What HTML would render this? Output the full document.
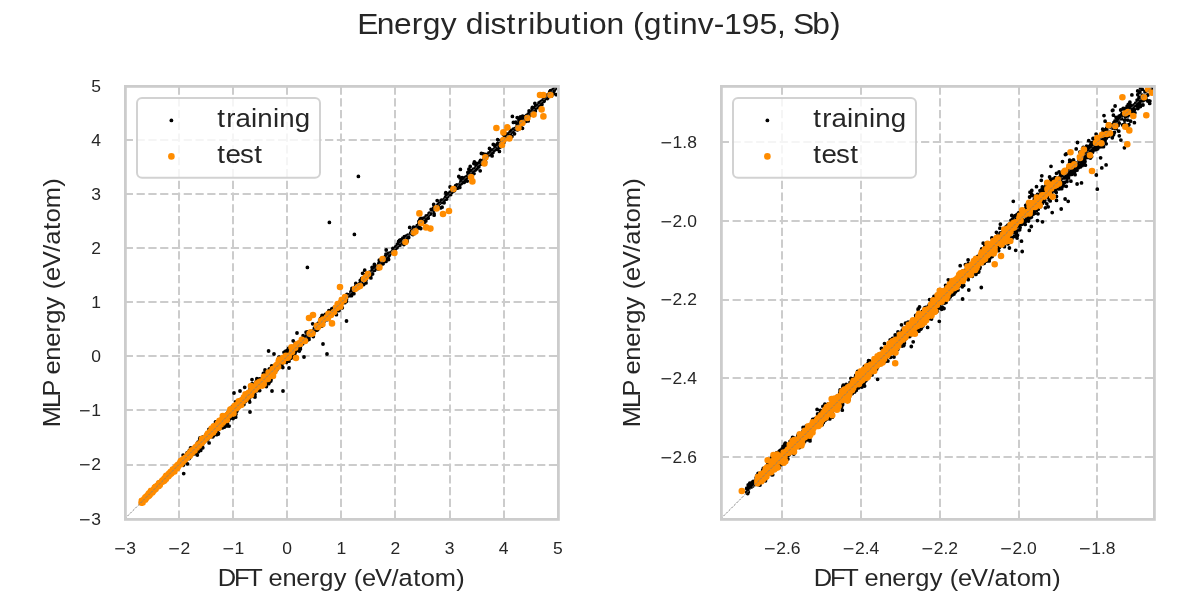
<!DOCTYPE html>
<html><head><meta charset="utf-8"><title>Energy distribution (gtinv-195, Sb)</title>
<style>html,body{margin:0;padding:0;background:#fff;width:1200px;height:600px;overflow:hidden}svg{font-family:"Liberation Sans",sans-serif;will-change:transform;transform:translateZ(0)}</style>
</head><body>
<svg font-family="Liberation Sans, sans-serif" fill="#262626" width="1200" height="600" viewBox="0 0 1200 600" style="display:block">
<rect width="1200" height="600" fill="#ffffff"/>
<defs>
<clipPath id="c0"><rect x="124.8" y="85.75" width="432.99999999999994" height="433.0"/></clipPath>
<clipPath id="c1"><rect x="720.8" y="85.75" width="433.0" height="433.0"/></clipPath>
</defs>
<g clip-path="url(#c0)">
<g stroke="#cccccc" stroke-width="2" stroke-dasharray="8.22 3.56" fill="none">
<path d="M179.00 518.75V85.75"/>
<path d="M233.00 518.75V85.75"/>
<path d="M287.00 518.75V85.75"/>
<path d="M341.00 518.75V85.75"/>
<path d="M395.00 518.75V85.75"/>
<path d="M450.00 518.75V85.75"/>
<path d="M504.00 518.75V85.75"/>
<path d="M124.8 140.00H557.8"/>
<path d="M124.8 194.00H557.8"/>
<path d="M124.8 248.00H557.8"/>
<path d="M124.8 302.00H557.8"/>
<path d="M124.8 356.00H557.8"/>
<path d="M124.8 410.00H557.8"/>
<path d="M124.8 465.00H557.8"/>
</g>
<path d="M156.0 487.4h0M161.1 480.7h0M188.4 457.3h0M181.5 461.4h0M165.3 477.7h0M162.0 480.6h0M177.1 467.3h0M153.6 490.4h0M181.3 462.2h0M196.7 447.9h0M157.2 487.6h0M197.1 447.3h0M181.0 462.6h0M148.5 494.7h0M168.2 475.4h0M193.5 449.9h0M182.8 461.5h0M161.6 482.7h0M184.8 457.6h0M155.5 488.1h0M147.7 496.0h0M152.1 490.5h0M162.4 479.9h0M169.5 472.8h0M158.2 485.0h0M189.5 454.1h0M154.0 489.2h0M150.4 493.0h0M148.2 493.9h0M177.1 466.1h0M191.7 451.2h0M177.3 466.3h0M196.1 446.1h0M184.3 461.3h0M192.1 451.1h0M196.0 446.8h0M174.1 470.6h0M196.4 445.0h0M171.2 472.5h0M158.6 485.1h0M168.8 475.9h0M180.9 461.8h0M161.9 481.5h0M194.5 449.6h0M157.7 485.7h0M162.4 480.5h0M157.8 484.6h0M163.3 480.1h0M143.3 501.2h0M178.8 465.3h0M159.1 486.8h0M146.9 497.4h0M178.2 464.7h0M153.1 490.0h0M160.4 483.3h0M168.1 475.8h0M151.6 490.4h0M155.4 487.8h0M170.0 472.6h0M170.2 473.0h0M157.5 486.7h0M160.0 482.0h0M158.9 485.9h0M157.9 486.9h0M170.5 473.5h0M155.1 489.2h0M171.3 472.9h0M157.0 487.1h0M190.8 451.8h0M153.3 490.2h0M192.1 451.1h0M153.2 492.0h0M185.8 458.6h0M177.8 464.6h0M154.9 489.8h0M186.3 456.1h0M157.2 487.4h0M147.9 495.4h0M178.2 466.2h0M173.6 469.7h0M179.2 465.3h0M152.9 490.9h0M157.1 484.7h0M182.0 461.9h0M147.6 493.9h0M192.9 451.1h0M167.4 477.3h0M178.2 465.2h0M160.8 483.1h0M153.2 488.6h0M143.6 499.1h0M155.0 487.4h0M192.6 450.3h0M198.5 442.6h0M168.2 474.6h0M164.6 478.4h0M158.7 485.7h0M198.1 446.4h0M146.3 497.0h0M166.3 476.3h0M152.6 489.8h0M156.7 487.8h0M187.5 455.6h0M154.6 488.7h0M174.5 470.2h0M163.9 479.1h0M171.9 473.9h0M162.0 481.3h0M159.1 482.0h0M159.1 485.5h0M147.9 495.7h0M170.5 475.0h0M193.4 451.0h0M197.0 445.8h0M144.6 500.0h0M195.3 448.3h0M149.9 494.0h0M185.6 458.3h0M194.1 449.3h0M152.6 490.5h0M161.9 480.4h0M164.6 478.2h0M162.8 481.3h0M172.4 469.7h0M143.5 498.8h0M167.1 478.0h0M193.0 449.9h0M148.0 494.7h0M170.6 472.0h0M170.4 472.6h0M187.6 457.2h0M198.0 445.8h0M183.3 462.3h0M158.6 485.1h0M181.2 460.3h0M162.8 480.1h0M186.8 455.9h0M181.5 462.5h0M198.7 445.8h0M192.4 452.2h0M145.6 497.8h0M159.5 484.8h0M192.2 452.0h0M177.2 465.2h0M162.6 482.6h0M146.2 498.7h0M186.5 457.6h0M143.1 500.6h0M148.3 495.4h0M199.6 445.3h0M288.0 357.0h0M228.0 416.1h0M232.7 407.8h0M266.7 384.3h0M257.9 387.2h0M287.6 357.0h0M263.4 373.4h0M243.3 402.5h0M288.4 353.9h0M221.7 421.3h0M226.0 422.8h0M224.1 418.6h0M240.3 401.0h0M187.1 452.8h0M236.0 408.9h0M220.0 427.8h0M211.5 429.1h0M211.9 434.2h0M276.3 369.0h0M228.1 416.8h0M297.7 346.8h0M231.3 415.6h0M264.6 382.3h0M218.7 429.6h0M279.7 357.4h0M207.9 435.5h0M215.2 430.2h0M217.2 425.7h0M198.1 442.1h0M270.8 381.0h0M233.5 414.6h0M197.7 447.2h0M245.7 396.5h0M240.1 404.0h0M242.1 398.8h0M266.4 380.4h0M190.8 450.7h0M240.6 400.9h0M189.0 456.0h0M297.2 344.9h0M260.2 380.2h0M202.8 447.8h0M290.6 356.4h0M203.5 442.6h0M224.5 422.6h0M188.6 456.8h0M226.4 425.9h0M268.6 377.7h0M197.3 455.1h0M273.9 367.5h0M233.0 413.1h0M276.9 369.8h0M203.3 439.6h0M288.6 356.7h0M268.1 376.0h0M188.6 455.9h0M239.1 407.0h0M190.7 449.2h0M267.5 375.4h0M225.5 416.5h0M273.6 367.3h0M286.3 362.4h0M203.6 441.4h0M277.8 360.0h0M228.1 419.5h0M227.7 415.6h0M259.6 380.0h0M297.0 345.4h0M262.9 376.8h0M208.9 429.3h0M183.1 455.1h0M196.0 450.7h0M217.5 429.5h0M191.1 451.5h0M190.8 452.1h0M293.7 357.8h0M200.7 450.4h0M222.1 419.4h0M296.0 346.1h0M245.4 396.8h0M264.0 377.3h0M216.6 434.7h0M260.9 379.1h0M202.1 445.4h0M223.5 422.6h0M289.1 352.5h0M268.4 373.2h0M237.1 403.0h0M236.6 409.8h0M269.8 372.7h0M229.5 418.6h0M233.6 408.4h0M249.4 401.2h0M248.5 400.3h0M236.9 411.0h0M253.7 392.7h0M200.5 443.0h0M269.5 372.9h0M202.0 440.6h0M277.6 366.3h0M250.0 393.2h0M292.5 354.0h0M231.8 412.7h0M260.0 384.3h0M191.6 452.5h0M218.5 420.8h0M202.0 440.7h0M261.2 383.6h0M197.2 447.9h0M241.3 403.7h0M212.6 435.7h0M202.6 444.2h0M278.2 363.0h0M211.5 432.8h0M192.3 448.7h0M228.9 412.0h0M207.7 439.4h0M266.5 372.4h0M255.4 390.3h0M294.0 351.7h0M282.6 357.4h0M218.8 428.1h0M283.7 361.4h0M212.6 432.9h0M282.9 359.6h0M200.0 441.6h0M291.6 353.7h0M249.0 397.3h0M236.5 411.5h0M230.1 413.2h0M227.2 417.3h0M201.4 444.3h0M256.9 378.7h0M224.6 421.5h0M286.0 355.2h0M197.5 449.0h0M237.8 406.2h0M251.5 385.5h0M268.3 376.4h0M259.7 390.6h0M232.9 412.4h0M268.6 379.8h0M266.1 376.4h0M227.6 412.6h0M233.1 418.6h0M224.5 427.1h0M274.0 367.1h0M199.7 439.0h0M278.4 363.7h0M251.8 395.7h0M226.4 416.5h0M293.3 346.5h0M295.1 351.7h0M296.3 343.9h0M194.8 447.0h0M240.4 399.8h0M290.7 351.6h0M184.0 460.7h0M218.1 429.6h0M236.8 405.1h0M215.5 426.2h0M249.9 389.6h0M245.7 395.8h0M281.8 365.0h0M211.0 430.8h0M271.5 371.7h0M240.7 401.5h0M295.9 345.5h0M283.4 361.3h0M185.4 461.2h0M229.7 415.0h0M212.8 436.8h0M240.1 404.3h0M299.6 348.2h0M250.8 393.2h0M191.1 451.1h0M270.4 377.0h0M206.5 435.4h0M237.1 407.1h0M257.4 389.4h0M289.8 350.2h0M222.9 426.3h0M260.8 385.8h0M187.1 455.7h0M190.3 454.4h0M232.8 414.6h0M252.0 390.2h0M216.2 429.6h0M269.9 370.9h0M220.5 426.8h0M214.6 429.6h0M264.4 379.4h0M265.9 375.9h0M297.2 348.9h0M198.5 451.7h0M194.3 451.4h0M280.3 363.2h0M215.3 424.8h0M289.0 361.2h0M249.9 392.0h0M253.4 393.5h0M183.6 460.5h0M249.3 396.6h0M284.8 352.0h0M299.3 348.2h0M227.5 415.6h0M202.7 437.1h0M288.7 360.3h0M231.5 412.6h0M235.9 405.5h0M237.9 406.3h0M247.0 394.0h0M190.1 453.5h0M184.8 457.0h0M272.7 370.6h0M257.0 387.9h0M229.1 426.1h0M259.6 382.1h0M266.4 386.6h0M217.1 432.4h0M228.9 420.3h0M211.9 436.7h0M199.2 445.6h0M252.2 383.7h0M269.3 369.2h0M254.1 395.0h0M212.9 430.7h0M258.0 389.7h0M231.1 415.4h0M235.2 407.1h0M184.5 460.7h0M274.1 366.3h0M288.0 355.7h0M217.1 428.2h0M225.3 422.0h0M240.5 403.8h0M229.5 409.5h0M226.2 418.4h0M270.3 377.9h0M259.5 379.0h0M220.5 426.5h0M257.2 382.8h0M263.0 383.7h0M234.5 408.9h0M213.5 435.6h0M284.0 352.3h0M183.7 473.6h0M267.2 380.1h0M277.6 366.2h0M207.7 437.2h0M249.7 402.1h0M297.9 348.4h0M218.3 434.0h0M255.0 394.7h0M231.4 407.5h0M234.6 412.2h0M271.1 374.6h0M246.8 399.3h0M215.5 422.0h0M269.7 371.9h0M248.4 391.4h0M219.0 422.0h0M252.9 390.6h0M269.8 375.6h0M190.5 456.8h0M202.4 446.7h0M224.3 420.5h0M212.2 428.9h0M249.3 396.8h0M188.7 453.4h0M290.4 355.4h0M269.0 378.7h0M232.1 406.8h0M200.8 445.7h0M190.3 456.1h0M269.5 368.8h0M249.3 396.1h0M231.6 412.0h0M219.7 423.7h0M189.3 454.8h0M271.7 371.2h0M207.7 433.2h0M214.3 430.8h0M210.2 434.7h0M249.3 393.2h0M217.0 425.7h0M195.7 453.0h0M285.1 358.8h0M203.3 440.4h0M208.3 436.7h0M269.6 378.1h0M236.7 410.3h0M292.4 350.4h0M287.7 356.9h0M248.6 394.4h0M202.2 441.4h0M219.0 425.3h0M260.7 379.7h0M217.8 433.2h0M243.0 397.1h0M197.3 443.7h0M248.7 396.0h0M293.2 340.8h0M255.8 382.5h0M216.6 423.4h0M196.5 449.3h0M253.0 393.3h0M247.5 397.3h0M271.4 367.6h0M183.2 465.3h0M200.8 443.6h0M255.0 389.9h0M250.2 391.7h0M265.2 378.9h0M287.6 350.1h0M272.9 374.5h0M254.4 389.4h0M299.3 346.2h0M222.4 423.0h0M211.2 432.4h0M214.4 425.2h0M256.5 381.2h0M197.0 448.8h0M230.7 418.1h0M223.3 416.9h0M197.0 454.7h0M280.0 363.0h0M280.6 363.5h0M212.4 431.6h0M193.4 454.0h0M256.4 387.1h0M206.9 436.3h0M251.3 393.2h0M228.7 414.7h0M283.7 361.4h0M219.5 420.5h0M243.8 400.5h0M192.6 453.5h0M225.6 422.2h0M288.6 348.3h0M200.0 438.0h0M271.1 379.7h0M235.7 417.2h0M249.0 391.1h0M287.7 355.2h0M288.4 356.2h0M234.0 410.1h0M299.3 351.1h0M216.3 426.6h0M209.1 442.9h0M255.1 387.9h0M252.1 392.4h0M243.9 404.6h0M218.9 428.7h0M233.7 406.7h0M246.9 397.2h0M186.1 455.8h0M190.6 447.8h0M187.5 463.8h0M281.2 364.2h0M255.5 388.2h0M219.7 425.7h0M250.2 392.8h0M285.6 358.0h0M194.7 453.0h0M206.0 439.0h0M221.6 418.1h0M236.6 409.1h0M224.9 418.2h0M282.3 363.1h0M246.8 392.8h0M191.9 454.5h0M213.8 434.6h0M242.3 399.2h0M271.8 376.9h0M256.6 388.4h0M299.6 347.4h0M220.7 423.5h0M255.5 390.5h0M295.2 352.5h0M235.4 413.7h0M201.8 440.8h0M209.9 431.7h0M230.1 415.5h0M197.6 447.9h0M238.6 405.6h0M296.5 350.4h0M285.8 351.2h0M252.8 392.0h0M292.6 348.1h0M256.5 381.0h0M192.4 452.8h0M259.6 382.6h0M251.8 393.4h0M258.5 387.8h0M213.4 428.1h0M268.7 383.7h0M245.4 401.6h0M296.1 347.7h0M198.0 443.5h0M244.5 400.3h0M282.8 367.5h0M202.6 441.4h0M273.3 371.5h0M292.3 353.3h0M269.3 370.5h0M259.4 383.4h0M208.3 434.6h0M291.6 349.1h0M192.6 450.1h0M225.8 418.3h0M189.5 450.4h0M237.7 409.1h0M269.2 382.5h0M241.7 405.1h0M210.4 433.2h0M256.8 390.8h0M269.4 374.5h0M212.7 432.2h0M221.4 423.6h0M207.1 436.2h0M236.0 412.3h0M189.9 457.1h0M231.8 408.1h0M192.9 450.7h0M213.5 425.3h0M299.0 343.7h0M191.1 452.7h0M217.5 427.7h0M227.5 423.7h0M280.2 361.7h0M196.3 450.9h0M291.6 355.8h0M267.4 379.4h0M288.1 358.5h0M278.9 357.1h0M251.8 391.2h0M189.2 451.0h0M288.7 351.5h0M251.2 390.2h0M202.8 438.6h0M294.5 346.6h0M202.2 441.1h0M205.9 440.6h0M253.8 396.6h0M269.3 377.1h0M198.4 447.8h0M229.1 415.3h0M235.5 401.8h0M236.6 402.7h0M239.0 407.3h0M235.9 414.3h0M185.0 462.6h0M292.4 349.4h0M250.6 394.9h0M265.6 377.2h0M260.5 382.9h0M294.9 347.3h0M247.8 396.4h0M224.3 419.6h0M271.1 377.8h0M204.3 441.7h0M252.5 392.1h0M269.4 373.3h0M249.6 397.7h0M281.4 366.2h0M199.8 442.6h0M278.3 362.9h0M293.3 349.4h0M282.4 361.4h0M227.5 414.2h0M200.9 441.2h0M252.8 390.2h0M213.4 433.6h0M265.1 376.4h0M219.9 420.9h0M267.2 378.6h0M228.7 412.4h0M238.6 404.9h0M289.6 356.7h0M229.6 415.5h0M189.2 458.5h0M295.5 349.3h0M202.3 444.0h0M217.1 429.1h0M272.5 371.1h0M183.1 461.8h0M271.7 365.8h0M240.6 400.1h0M261.3 383.4h0M222.3 427.9h0M218.5 433.3h0M294.8 355.2h0M287.6 356.8h0M257.8 383.6h0M223.8 417.3h0M194.7 448.9h0M190.8 451.3h0M215.0 430.1h0M269.0 374.0h0M213.2 436.2h0M213.2 425.6h0M244.7 387.3h0M273.0 373.6h0M297.8 349.6h0M295.4 343.3h0M249.7 395.7h0M258.6 390.3h0M222.0 423.4h0M200.4 443.1h0M256.6 383.2h0M201.0 444.0h0M287.1 355.7h0M200.3 447.1h0M261.2 380.7h0M189.3 452.6h0M263.4 378.9h0M206.1 438.5h0M259.7 379.1h0M281.3 365.6h0M552.2 91.1h0M364.5 279.0h0M461.3 183.3h0M473.5 169.2h0M535.6 106.1h0M547.9 95.7h0M540.4 104.0h0M445.6 197.1h0M549.5 94.0h0M308.1 335.2h0M297.9 345.1h0M485.2 158.8h0M454.1 189.4h0M395.4 248.9h0M471.8 173.7h0M513.4 129.1h0M556.1 87.2h0M471.4 172.2h0M481.2 160.9h0M465.0 178.7h0M411.6 230.8h0M413.2 229.5h0M348.7 295.1h0M459.8 185.0h0M384.8 258.2h0M294.7 348.3h0M539.5 103.0h0M446.2 198.9h0M458.5 185.1h0M490.6 152.7h0M362.7 280.5h0M393.6 249.8h0M555.9 87.3h0M357.0 288.9h0M391.4 252.5h0M534.9 109.3h0M359.4 285.7h0M328.2 315.1h0M336.4 308.0h0M339.0 307.3h0M349.8 295.1h0M293.5 349.3h0M300.4 349.1h0M471.1 172.5h0M485.0 159.7h0M484.5 158.9h0M423.1 218.5h0M418.8 223.7h0M510.2 133.4h0M464.1 178.0h0M495.0 146.7h0M530.3 112.2h0M441.6 200.1h0M547.6 95.7h0M439.5 203.4h0M517.0 126.7h0M460.1 183.8h0M546.4 97.1h0M456.1 188.2h0M343.2 300.5h0M455.7 185.6h0M354.6 288.2h0M515.4 128.3h0M557.4 84.4h0M510.3 131.8h0M421.4 223.2h0M407.3 236.9h0M521.0 120.8h0M322.9 320.3h0M476.0 167.3h0M348.0 296.0h0M321.9 324.1h0M528.2 114.1h0M324.0 321.4h0M374.2 268.7h0M414.2 227.5h0M356.0 287.0h0M512.8 130.9h0M555.2 87.7h0M300.0 342.2h0M530.3 113.6h0M404.0 239.3h0M461.3 183.5h0M415.4 229.9h0M404.7 239.3h0M407.8 237.5h0M494.3 149.9h0M348.7 294.9h0M547.9 95.5h0M504.7 137.0h0M331.4 314.2h0M294.4 350.1h0M378.9 265.1h0M349.6 295.0h0M321.5 317.3h0M489.7 154.6h0M313.6 330.5h0M377.7 266.1h0M367.0 274.0h0M498.5 145.4h0M539.3 105.0h0M424.1 218.2h0M394.7 249.5h0M377.0 268.7h0M429.1 213.3h0M372.7 269.9h0M480.7 164.3h0M302.7 343.8h0M525.9 117.7h0M509.5 135.0h0M358.3 286.8h0M293.0 353.4h0M486.3 155.4h0M344.0 297.0h0M407.6 237.1h0M380.2 263.5h0M435.4 208.1h0M531.3 112.6h0M388.5 255.1h0M490.9 150.9h0M444.7 199.5h0M319.6 325.8h0M479.0 164.7h0M506.7 137.6h0M412.1 231.9h0M398.5 245.5h0M494.5 150.1h0M476.1 166.3h0M357.0 287.3h0M526.2 116.0h0M531.3 113.2h0M499.5 145.0h0M359.8 283.5h0M544.3 99.5h0M488.3 154.5h0M298.0 344.1h0M517.1 124.1h0M425.8 220.9h0M292.4 353.7h0M333.6 310.1h0M352.9 290.9h0M467.6 176.0h0M322.1 315.4h0M350.8 295.1h0M317.0 325.1h0M428.5 215.3h0M339.4 304.2h0M353.1 289.4h0M528.5 115.2h0M507.5 135.2h0M356.7 285.6h0M540.1 102.2h0M383.8 261.7h0M330.5 314.8h0M471.1 173.8h0M453.2 191.2h0M430.4 213.4h0M549.8 91.6h0M378.1 266.2h0M452.0 192.0h0M347.6 296.2h0M479.7 162.4h0M471.4 172.8h0M385.1 258.0h0M290.4 351.4h0M381.5 261.5h0M337.8 310.7h0M457.0 188.0h0M357.1 285.9h0M335.0 312.9h0M406.1 237.8h0M438.5 206.7h0M307.2 335.7h0M542.1 101.6h0M344.8 302.7h0M392.8 251.2h0M370.4 274.4h0M547.0 97.2h0M521.6 120.8h0M334.7 308.4h0M527.1 116.2h0M448.1 194.0h0M377.5 266.1h0M547.1 95.2h0M489.7 153.6h0M344.7 298.5h0M554.1 89.9h0M462.7 181.8h0M467.1 177.6h0M416.1 228.5h0M395.8 247.4h0M291.9 350.9h0M493.8 150.7h0M451.9 190.5h0M483.4 160.9h0M394.3 249.8h0M495.5 149.6h0M329.5 316.3h0M557.8 85.0h0M498.4 144.8h0M389.6 254.7h0M462.9 179.6h0M329.7 314.3h0M451.5 192.1h0M536.4 106.2h0M492.6 150.6h0M493.0 151.0h0M495.4 149.4h0M331.8 309.0h0M365.6 280.5h0M482.9 161.4h0M321.7 326.2h0M373.9 270.3h0M300.5 341.3h0M341.7 302.9h0M472.9 171.2h0M512.1 131.6h0M554.4 87.2h0M526.7 115.5h0M492.9 150.6h0M519.4 124.9h0M523.3 120.8h0M461.5 181.8h0M426.7 217.2h0M474.6 169.2h0M485.2 159.5h0M308.9 338.1h0M515.6 129.1h0M419.7 223.7h0M437.7 206.9h0M404.4 236.7h0M326.7 315.7h0M522.4 120.6h0M462.2 180.4h0M356.1 288.6h0M385.7 259.2h0M419.2 224.6h0M342.8 299.6h0M449.4 193.7h0M413.4 228.6h0M497.8 144.3h0M502.9 139.6h0M485.1 157.3h0M420.1 223.3h0M438.3 204.4h0M369.5 274.3h0M376.5 267.4h0M316.1 325.3h0M530.8 114.4h0M385.1 257.0h0M397.5 244.1h0M415.8 228.2h0M540.6 102.2h0M472.4 170.9h0M510.3 134.2h0M338.3 304.3h0M340.5 301.7h0M322.7 318.3h0M555.1 88.7h0M462.6 180.7h0M412.2 231.9h0M429.4 213.1h0M472.7 170.9h0M510.1 132.5h0M460.7 183.5h0M495.4 147.9h0M296.4 349.1h0M334.9 310.2h0M550.6 91.7h0M521.9 121.8h0M405.4 238.2h0M396.6 246.2h0M330.2 315.0h0M320.6 318.3h0M408.0 236.3h0M320.4 323.9h0M504.7 136.6h0M450.7 194.5h0M388.4 253.3h0M526.4 116.7h0M345.3 297.7h0M323.5 322.3h0M342.3 300.7h0M529.3 115.4h0M329.0 312.1h0M310.6 333.3h0M464.4 179.7h0M470.6 173.4h0M360.5 283.1h0M406.6 235.9h0M401.9 241.2h0M508.4 135.9h0M465.4 178.9h0M537.8 106.7h0M552.7 90.0h0M334.4 307.9h0M389.2 255.5h0M454.5 190.6h0M538.7 104.9h0M337.6 307.2h0M341.3 300.9h0M290.5 353.3h0M477.1 166.1h0M498.4 144.3h0M294.1 346.9h0M294.4 349.6h0M491.2 151.6h0M433.3 210.8h0M360.7 284.0h0M444.5 198.8h0M383.1 259.2h0M491.2 150.9h0M529.2 114.4h0M290.4 357.1h0M487.8 155.4h0M495.0 148.7h0M362.7 280.2h0M476.5 166.0h0M392.3 251.7h0M369.3 275.0h0M444.8 199.1h0M493.4 150.8h0M533.6 110.9h0M529.8 113.5h0M325.4 319.8h0M478.5 165.4h0M441.6 202.3h0M494.6 149.6h0M511.3 131.7h0M319.2 325.5h0M477.1 166.5h0M348.0 294.8h0M396.1 247.6h0M308.0 339.0h0M543.6 100.4h0M447.8 196.3h0M466.1 176.9h0M404.3 237.6h0M379.7 263.6h0M351.7 292.0h0M355.5 286.6h0M397.2 247.1h0M512.5 130.8h0M326.1 316.4h0M538.2 105.4h0M296.3 347.8h0M554.9 88.5h0M508.1 134.0h0M506.6 136.4h0M500.2 144.0h0M487.0 156.3h0M536.5 106.1h0M328.9 310.7h0M485.5 157.3h0M304.1 339.1h0M385.9 256.3h0M485.1 157.6h0M443.7 199.8h0M425.3 219.0h0M304.7 338.8h0M484.5 158.1h0M345.0 299.6h0M426.7 218.5h0M551.6 91.5h0M419.3 225.8h0M471.6 173.3h0M390.9 252.9h0M461.3 182.6h0M319.3 324.2h0M317.7 325.6h0M328.7 313.7h0M479.2 164.5h0M343.2 302.4h0M342.3 307.8h0M460.9 181.5h0M378.6 264.3h0M455.8 187.1h0M333.1 310.6h0M322.2 323.5h0M426.9 216.2h0M355.7 288.0h0M335.2 311.6h0M301.4 340.0h0M543.6 101.4h0M443.5 200.6h0M471.2 170.7h0M533.5 110.9h0M547.1 96.4h0M470.5 172.0h0M554.2 89.4h0M425.0 220.0h0M398.8 245.4h0M335.1 308.7h0M399.9 245.2h0M450.1 192.1h0M381.1 262.3h0M543.1 99.8h0M318.9 324.2h0M535.8 107.5h0M442.3 201.7h0M385.2 259.9h0M351.3 291.7h0M321.7 322.0h0M320.2 320.0h0M300.6 345.9h0M358.7 284.8h0M523.3 118.2h0M321.4 325.4h0M297.2 349.2h0M424.1 219.3h0M379.6 262.4h0M388.3 256.6h0M300.6 343.1h0M408.0 235.9h0M393.5 250.7h0M554.9 89.0h0M547.3 95.2h0M398.3 245.3h0M537.5 107.5h0M446.1 198.2h0M335.1 308.5h0M551.5 93.6h0M396.0 248.3h0M422.1 222.0h0M478.8 166.9h0M351.8 290.0h0M419.5 225.8h0M354.5 289.1h0M356.5 287.3h0M384.8 259.5h0M534.9 107.5h0M465.0 178.6h0M394.9 249.6h0M381.1 261.4h0M400.5 242.6h0M329.3 316.9h0M525.2 120.0h0M389.4 253.4h0M420.6 223.2h0M317.0 330.2h0M533.5 109.6h0M427.7 217.4h0M556.8 87.6h0M319.2 326.5h0M360.5 285.2h0M454.8 188.2h0M398.6 241.5h0M505.5 137.6h0M449.2 194.1h0M522.3 121.6h0M503.5 140.3h0M296.3 346.9h0M541.8 101.2h0M329.4 315.6h0M383.2 260.5h0M434.5 209.3h0M526.9 116.2h0M370.8 271.9h0M298.0 343.3h0M319.6 325.1h0M503.4 140.8h0M344.0 298.1h0M469.5 174.4h0M473.3 170.6h0M546.4 96.7h0M557.9 85.3h0M353.5 288.8h0M516.3 128.5h0M395.7 246.8h0M349.0 295.0h0M381.0 261.9h0M344.9 301.8h0M557.7 86.0h0M293.4 351.6h0M518.6 123.2h0M479.0 165.5h0M441.1 201.4h0M349.8 294.6h0M375.9 268.8h0M544.4 98.9h0M509.7 132.8h0M322.9 320.9h0M407.9 235.1h0M544.1 99.3h0M298.8 345.0h0M432.3 209.9h0M485.2 158.3h0M361.0 281.7h0M399.9 244.8h0M539.4 104.4h0M454.6 188.0h0M517.8 126.2h0M476.9 168.8h0M350.9 291.9h0M331.2 311.1h0M454.1 189.7h0M376.2 267.3h0M308.7 335.7h0M305.3 337.4h0M506.8 135.6h0M483.9 159.3h0M517.9 125.8h0M293.6 351.1h0M450.7 193.0h0M330.1 314.6h0M527.2 115.3h0M456.8 187.8h0M300.4 344.5h0M522.8 120.4h0M356.7 286.5h0M544.6 98.6h0M378.9 265.0h0M498.9 144.4h0M425.8 219.2h0M417.2 227.8h0M370.9 273.9h0M556.4 86.7h0M525.5 116.6h0M557.2 86.8h0M314.0 330.8h0M437.2 200.6h0M349.8 295.5h0M329.1 312.4h0M461.2 183.7h0M413.6 227.1h0M407.2 241.2h0M385.7 256.0h0M346.5 301.3h0M541.9 104.4h0M450.0 192.6h0M323.8 320.6h0M419.8 224.0h0M372.3 269.6h0M394.2 248.8h0M505.3 133.6h0M550.5 90.7h0M428.2 218.2h0M336.2 307.7h0M493.0 152.4h0M296.1 348.9h0M460.0 177.9h0M408.7 237.5h0M379.3 260.2h0M303.1 335.7h0M364.7 270.2h0M311.0 332.5h0M499.1 143.7h0M375.0 267.7h0M529.3 115.5h0M489.5 148.4h0M497.7 139.6h0M556.3 94.7h0M554.4 90.2h0M462.1 177.7h0M424.8 222.1h0M417.7 228.2h0M452.8 190.7h0M410.7 233.0h0M358.0 286.2h0M404.3 239.8h0M520.4 117.4h0M336.4 314.7h0M303.8 341.4h0M553.8 93.5h0M485.8 157.1h0M457.1 188.0h0M379.0 263.1h0M382.0 261.6h0M386.2 250.0h0M294.7 353.2h0M471.4 173.8h0M356.2 284.6h0M522.2 122.6h0M549.1 94.1h0M440.7 207.9h0M369.1 272.3h0M473.5 170.6h0M335.0 306.8h0M497.6 149.0h0M492.3 153.1h0M521.1 125.4h0M306.1 332.2h0M420.8 228.5h0M526.3 116.0h0M417.2 225.7h0M421.0 218.5h0M389.7 253.1h0M525.7 121.4h0M490.7 151.3h0M434.1 215.2h0M352.0 288.3h0M451.3 192.7h0M370.9 275.2h0M330.8 314.5h0M318.8 323.0h0M528.2 120.9h0M433.7 204.4h0M411.9 234.1h0M522.6 116.2h0M524.4 118.8h0M473.9 163.6h0M300.2 347.4h0M480.5 160.4h0M552.9 91.0h0M380.7 265.1h0M323.9 317.0h0M532.7 111.8h0M382.6 263.5h0M430.2 214.2h0M313.9 332.4h0M498.8 145.6h0M396.1 247.7h0M400.4 239.8h0M374.6 269.5h0M535.3 110.9h0M510.9 130.4h0M374.6 270.3h0M383.2 263.6h0M485.6 162.1h0M515.8 122.2h0M327.2 316.9h0M290.1 348.4h0M444.1 202.8h0M517.4 129.8h0M556.1 82.0h0M377.3 267.3h0M401.6 242.7h0M426.2 218.3h0M533.1 114.0h0M446.1 194.3h0M353.9 293.7h0M347.0 294.3h0M351.5 295.7h0M458.8 176.5h0M480.0 161.4h0M485.8 154.3h0M442.1 207.2h0M355.3 287.3h0M547.6 98.2h0M361.0 285.6h0M372.6 273.9h0M495.9 145.1h0M311.2 332.5h0M422.7 222.7h0M427.9 217.8h0M547.4 98.5h0M314.8 330.7h0M444.1 200.6h0M551.6 95.9h0M382.8 263.9h0M480.2 170.8h0M552.7 91.2h0M488.9 153.0h0M338.8 306.6h0M355.8 283.5h0M443.7 202.5h0M294.2 349.5h0M529.1 110.9h0M404.8 238.2h0M517.0 129.3h0M314.4 328.2h0M505.5 139.6h0M418.9 221.3h0M340.5 300.7h0M474.6 169.9h0M426.2 215.9h0M468.9 169.2h0M386.0 254.1h0M402.8 238.2h0M484.3 160.1h0M446.7 199.0h0M369.9 276.3h0M467.9 172.5h0M459.8 187.4h0M330.8 311.6h0M445.8 192.7h0M290.6 358.3h0M539.0 103.5h0M500.0 147.0h0M451.7 192.4h0M539.0 103.0h0M334.6 312.3h0M492.1 155.9h0M378.2 266.8h0M427.3 215.8h0M528.9 116.1h0M345.2 301.6h0M367.1 274.4h0M386.0 261.4h0M467.2 181.1h0M420.0 223.4h0M470.2 166.5h0M393.9 251.5h0M555.2 88.8h0M317.7 329.4h0M423.8 221.9h0M307.2 340.2h0M420.5 222.3h0M457.9 188.0h0M365.9 280.4h0M360.3 280.4h0M309.0 339.4h0M490.8 150.0h0M458.4 185.9h0M383.2 263.5h0M311.0 332.8h0M534.4 110.2h0M418.9 223.8h0M514.9 129.5h0M493.3 144.4h0M505.8 134.5h0M361.7 278.4h0M474.0 173.6h0M500.4 144.4h0M419.7 220.1h0M456.9 184.8h0M443.5 200.1h0M379.1 264.9h0M476.9 163.4h0M313.3 336.6h0M464.1 182.4h0M388.6 259.5h0M399.5 240.4h0M434.1 214.0h0M334.7 309.8h0M307.4 331.9h0M397.0 247.7h0M437.9 204.8h0M454.6 189.0h0M520.0 121.4h0M312.7 323.8h0M345.8 301.7h0M354.6 289.2h0M534.9 103.3h0M362.6 273.3h0M436.6 207.7h0M420.3 218.8h0M392.9 248.5h0M441.1 200.5h0M514.5 133.8h0M366.0 282.9h0M357.5 285.7h0M500.4 143.7h0M370.4 273.5h0M412.9 234.5h0M374.4 264.5h0M396.6 247.6h0M517.2 117.6h0M485.5 158.9h0M384.4 258.0h0M332.8 308.3h0M543.4 101.3h0M327.2 319.7h0M468.3 177.1h0M510.7 132.9h0M381.0 264.2h0M450.1 187.0h0M544.2 101.1h0M497.8 143.3h0M382.1 258.9h0M549.1 93.9h0M378.2 268.9h0M309.8 332.1h0M431.2 209.3h0M488.0 155.0h0M342.8 300.7h0M293.2 357.4h0M532.0 115.1h0M505.7 138.4h0M491.3 151.6h0M504.5 136.7h0M361.5 283.1h0M493.0 150.0h0M345.3 301.6h0M317.7 323.8h0M330.3 311.0h0M465.4 178.6h0M532.1 108.3h0M530.7 113.8h0M405.4 239.8h0M319.8 324.7h0M409.7 227.4h0M370.9 277.9h0M337.6 305.3h0M525.5 119.2h0M307.6 335.6h0M363.7 284.6h0M316.9 324.3h0M299.1 342.4h0M299.8 344.7h0M540.9 104.0h0M413.5 229.8h0M365.5 275.0h0M511.9 136.5h0M519.0 120.0h0M309.8 334.8h0M325.1 315.8h0M502.3 143.9h0M483.3 153.9h0M532.7 109.9h0M503.4 134.3h0M475.3 170.1h0M346.5 299.0h0M325.3 314.5h0M366.3 274.9h0M306.7 335.7h0M372.1 267.4h0M346.0 296.0h0M539.1 105.4h0M339.0 310.5h0M522.5 128.3h0M524.5 116.8h0M501.2 140.4h0M504.0 142.3h0M433.7 207.9h0M485.1 158.9h0M333.4 309.9h0M307.5 332.8h0M403.9 244.6h0M534.2 108.1h0M297.0 333.0h0M268.6 351.0h0M274.0 354.0h0M323.0 344.0h0M327.0 354.0h0M304.0 357.0h0M289.0 368.0h0M272.0 391.0h0M283.0 391.0h0M250.0 412.0h0M234.0 393.0h0M240.0 391.0h0M252.0 379.6h0M255.0 397.0h0M265.0 370.0h0M329.4 222.4h0M354.4 234.4h0M358.4 176.4h0M307.4 267.4h0M346.5 321.0h0M512.4 116.4h0M520.4 117.0h0M513.4 122.4h0M532.4 107.4h0M460.4 169.4h0M481.4 153.4h0M474.4 162.0h0M499.4 151.4h0" stroke="#000000" stroke-width="3.8" stroke-linecap="round" fill="none"/>
<path d="M190.3 452.2h0M176.4 467.6h0M167.0 475.5h0M194.5 448.9h0M157.5 485.6h0M196.4 447.8h0M173.5 470.0h0M197.0 446.8h0M175.0 468.6h0M182.1 461.1h0M148.1 495.8h0M173.1 469.9h0M168.0 476.6h0M178.2 466.1h0M152.8 490.5h0M194.2 449.0h0M178.0 464.8h0M165.7 476.7h0M160.4 482.8h0M156.3 486.8h0M199.4 444.0h0M194.5 449.0h0M191.9 451.7h0M164.8 478.7h0M191.6 452.4h0M169.1 474.6h0M190.2 452.8h0M191.1 452.1h0M195.6 447.2h0M155.4 488.5h0M146.3 497.5h0M183.1 460.2h0M154.8 489.4h0M195.3 448.8h0M184.3 458.8h0M155.4 488.4h0M187.7 455.2h0M170.6 472.9h0M174.3 469.6h0M176.2 468.1h0M198.1 444.6h0M176.4 467.3h0M186.6 457.6h0M171.2 473.5h0M170.0 474.5h0M151.2 492.7h0M181.4 461.3h0M173.6 470.6h0M190.1 453.3h0M181.8 461.7h0M174.4 471.5h0M196.7 447.8h0M184.3 458.8h0M194.6 450.5h0M178.0 464.8h0M153.4 490.3h0M158.8 486.0h0M180.5 461.8h0M195.7 448.1h0M183.0 459.5h0M175.7 467.8h0M178.1 466.0h0M159.2 483.6h0M149.2 493.2h0M145.3 497.5h0M184.4 460.0h0M172.8 470.4h0M183.4 461.0h0M192.1 451.9h0M148.7 493.9h0M159.8 484.9h0M151.1 490.8h0M190.5 454.2h0M174.9 469.7h0M156.1 487.0h0M168.2 475.6h0M182.8 460.9h0M144.9 499.4h0M171.0 472.1h0M188.7 454.8h0M193.3 450.4h0M176.0 468.2h0M172.1 472.6h0M154.6 489.0h0M142.6 502.6h0M158.6 485.5h0M147.5 495.6h0M191.7 451.4h0M142.9 501.0h0M189.7 455.8h0M163.5 479.7h0M168.3 474.7h0M152.4 491.2h0M176.4 466.3h0M149.1 493.8h0M165.9 478.9h0M184.2 459.6h0M143.9 500.1h0M170.8 471.7h0M141.8 501.1h0M155.7 487.9h0M167.6 475.6h0M146.3 496.7h0M188.7 455.4h0M177.7 466.1h0M191.0 452.7h0M182.6 461.3h0M158.1 485.8h0M199.2 444.3h0M155.6 488.9h0M150.5 493.9h0M154.8 488.3h0M159.1 483.4h0M191.9 450.4h0M187.3 457.6h0M166.5 476.9h0M175.8 468.4h0M167.6 476.5h0M175.5 468.3h0M170.8 472.5h0M176.9 466.3h0M177.1 468.2h0M158.4 485.7h0M162.4 480.5h0M154.7 488.8h0M163.9 480.9h0M182.6 461.7h0M188.5 455.7h0M177.8 465.1h0M155.6 486.8h0M147.9 496.5h0M190.4 452.9h0M170.6 473.3h0M185.2 458.0h0M181.0 462.9h0M159.5 485.0h0M178.2 465.9h0M144.4 499.7h0M149.8 492.8h0M144.1 500.1h0M164.3 479.0h0M153.4 490.9h0M193.1 451.0h0M150.5 493.0h0M153.4 490.6h0M150.8 491.5h0M170.2 472.6h0M182.1 462.4h0M177.4 465.9h0M168.6 474.0h0M190.1 454.4h0M149.5 494.5h0M182.2 460.4h0M180.2 464.0h0M148.4 494.8h0M149.6 494.1h0M144.1 499.4h0M146.1 498.3h0M197.4 446.3h0M167.9 476.1h0M154.8 487.6h0M147.6 495.6h0M160.0 483.6h0M154.8 488.9h0M164.3 478.9h0M152.3 492.5h0M154.9 489.4h0M144.2 500.1h0M171.1 473.1h0M168.5 476.3h0M172.3 471.0h0M192.4 451.6h0M181.6 461.2h0M145.5 498.3h0M143.3 500.6h0M164.9 478.5h0M165.9 477.5h0M196.9 446.9h0M166.1 477.1h0M192.2 450.6h0M193.5 450.5h0M190.1 452.6h0M171.4 472.4h0M170.8 472.2h0M188.7 455.0h0M198.3 445.7h0M160.4 483.0h0M169.0 475.4h0M177.8 467.0h0M166.0 477.7h0M152.4 491.5h0M149.2 495.3h0M166.3 475.8h0M172.0 471.4h0M193.6 450.6h0M154.9 488.4h0M177.9 465.4h0M151.0 492.9h0M180.3 463.5h0M190.9 454.1h0M185.8 457.7h0M172.8 469.5h0M189.6 453.2h0M188.7 454.3h0M175.0 469.1h0M185.0 459.4h0M166.6 476.5h0M193.5 450.0h0M178.8 465.0h0M176.2 467.7h0M181.9 461.1h0M159.5 483.7h0M178.5 465.5h0M159.8 483.9h0M192.8 452.1h0M148.3 496.2h0M167.1 476.2h0M174.3 469.7h0M182.2 462.1h0M155.9 487.6h0M141.8 500.9h0M191.0 453.2h0M141.6 502.3h0M157.0 486.9h0M181.1 460.9h0M145.5 497.4h0M145.9 497.5h0M177.8 466.9h0M172.4 470.7h0M145.9 497.3h0M146.9 496.9h0M155.5 488.7h0M144.1 499.9h0M164.6 480.2h0M179.1 464.9h0M194.3 449.7h0M162.6 481.7h0M191.2 452.7h0M145.1 499.7h0M191.0 451.9h0M143.3 500.4h0M186.4 458.1h0M179.7 463.5h0M153.3 490.0h0M153.5 490.5h0M198.8 445.8h0M170.9 472.8h0M185.4 457.9h0M149.6 493.6h0M173.9 469.1h0M172.9 470.1h0M149.2 495.5h0M169.1 474.5h0M180.8 464.2h0M159.3 483.7h0M195.5 447.9h0M187.6 455.4h0M188.3 455.3h0M149.9 493.8h0M176.3 467.8h0M230.4 409.5h0M240.3 404.2h0M246.0 394.5h0M244.8 399.8h0M258.1 384.9h0M225.3 418.4h0M225.4 418.0h0M213.1 432.6h0M201.1 442.5h0M255.1 389.6h0M219.3 424.2h0M225.0 417.8h0M244.1 399.0h0M217.1 426.2h0M218.9 422.4h0M236.1 406.6h0M243.4 398.9h0M244.0 397.4h0M225.5 417.7h0M235.5 407.5h0M202.0 440.3h0M250.7 392.8h0M218.1 423.4h0M202.5 441.5h0M220.6 422.8h0M209.4 433.9h0M213.4 430.2h0M257.3 385.9h0M243.5 400.3h0M226.8 419.5h0M239.5 402.2h0M236.3 407.4h0M216.8 425.4h0M231.6 413.0h0M218.2 424.2h0M201.5 443.3h0M259.3 382.0h0M232.6 410.7h0M212.7 431.1h0M233.5 413.4h0M241.1 405.0h0M215.1 428.8h0M226.5 417.5h0M204.9 439.2h0M217.3 426.6h0M229.2 412.8h0M256.3 387.4h0M261.2 382.5h0M220.3 423.9h0M218.8 425.8h0M201.6 441.2h0M200.0 443.8h0M237.3 406.4h0M254.6 388.3h0M230.7 412.5h0M239.5 402.8h0M227.6 414.7h0M210.3 434.6h0M261.3 383.0h0M260.5 381.5h0M223.0 420.7h0M216.4 426.1h0M240.4 404.0h0M218.7 427.7h0M251.0 395.1h0M216.0 428.2h0M215.6 428.2h0M213.9 426.2h0M207.1 435.1h0M232.2 410.1h0M254.2 387.8h0M220.8 424.5h0M202.9 440.3h0M205.5 437.9h0M234.5 406.1h0M214.5 429.6h0M209.1 436.0h0M208.1 435.0h0M214.1 429.3h0M206.6 436.4h0M260.0 382.9h0M203.5 439.5h0M256.2 387.8h0M246.5 397.2h0M211.7 428.5h0M237.3 406.6h0M221.0 421.5h0M224.2 420.2h0M222.6 422.8h0M246.8 395.2h0M210.4 432.5h0M245.5 396.0h0M212.6 429.1h0M231.3 411.5h0M260.3 383.7h0M231.5 409.0h0M203.3 439.7h0M219.5 420.8h0M235.3 406.8h0M210.1 431.7h0M242.1 400.1h0M245.8 396.6h0M250.0 393.3h0M245.5 394.4h0M203.5 440.6h0M223.4 421.5h0M239.4 403.2h0M250.6 393.2h0M213.8 427.9h0M261.4 381.8h0M240.7 400.7h0M260.8 382.0h0M231.0 412.9h0M254.6 388.8h0M241.0 401.0h0M231.3 412.4h0M240.9 403.1h0M216.3 426.9h0M228.0 414.6h0M254.6 386.7h0M211.4 431.1h0M234.2 407.7h0M206.6 436.6h0M222.8 417.8h0M257.0 383.2h0M259.5 384.3h0M240.0 402.7h0M210.3 432.8h0M230.9 411.7h0M201.7 441.6h0M253.8 390.1h0M236.4 408.3h0M250.8 392.8h0M220.4 422.6h0M248.6 393.1h0M203.0 439.3h0M202.0 441.6h0M240.6 403.2h0M237.4 407.5h0M252.9 389.2h0M240.4 402.5h0M215.3 426.9h0M256.5 385.5h0M250.5 391.8h0M224.6 418.5h0M254.9 388.5h0M250.5 393.8h0M203.6 440.2h0M212.2 430.3h0M238.7 401.4h0M220.9 422.7h0M232.8 409.9h0M222.8 416.1h0M246.5 396.4h0M251.6 391.9h0M240.8 402.2h0M225.2 418.2h0M259.5 386.1h0M208.2 433.8h0M209.6 435.8h0M205.1 438.8h0M251.4 392.3h0M208.9 433.7h0M249.0 394.4h0M244.3 399.4h0M243.0 401.3h0M223.5 419.4h0M220.4 423.3h0M247.3 396.9h0M214.4 430.6h0M226.4 417.9h0M218.1 424.9h0M220.9 424.3h0M253.0 390.0h0M229.1 414.0h0M231.6 410.2h0M245.3 398.8h0M203.4 441.1h0M216.7 426.7h0M251.9 391.9h0M226.8 419.9h0M212.2 429.5h0M203.7 439.2h0M228.8 414.3h0M206.5 437.9h0M243.0 399.9h0M228.1 415.6h0M236.3 405.0h0M254.6 387.8h0M208.0 433.5h0M245.6 399.2h0M228.9 415.5h0M203.9 439.9h0M244.9 399.2h0M220.9 420.3h0M248.3 394.5h0M258.9 385.7h0M201.3 442.3h0M202.1 438.9h0M236.0 407.6h0M276.0 365.7h0M270.8 372.5h0M283.2 358.1h0M262.7 381.2h0M282.9 361.5h0M271.6 374.1h0M267.8 379.0h0M285.7 357.6h0M276.1 368.1h0M271.6 372.1h0M292.0 352.1h0M277.0 365.7h0M265.9 377.4h0M267.4 377.4h0M272.7 369.1h0M279.4 359.5h0M288.7 356.6h0M288.5 355.9h0M273.5 368.7h0M271.9 373.1h0M296.6 344.6h0M278.1 366.8h0M274.5 371.5h0M287.7 357.8h0M268.6 372.5h0M263.7 384.1h0M265.9 377.2h0M262.4 385.6h0M285.9 355.8h0M299.1 343.3h0M277.0 364.9h0M291.5 347.2h0M283.1 360.3h0M280.4 360.3h0M292.6 349.3h0M264.1 376.8h0M270.7 374.2h0M264.0 376.7h0M262.7 381.2h0M278.7 361.2h0M283.3 357.7h0M295.2 347.7h0M268.6 373.2h0M283.1 358.7h0M281.8 360.7h0M310.8 332.2h0M321.1 320.6h0M316.8 325.8h0M341.9 300.2h0M340.3 306.5h0M317.4 327.0h0M336.1 307.6h0M310.4 333.9h0M322.4 324.2h0M341.8 299.8h0M341.6 301.2h0M312.5 333.6h0M329.5 314.4h0M309.6 333.5h0M337.7 304.1h0M328.5 313.7h0M337.0 307.7h0M340.8 303.4h0M323.2 319.6h0M301.8 339.9h0M338.9 305.0h0M344.0 300.2h0M141.5 502.8h0M309.0 318.0h0M313.0 315.0h0M332.0 323.4h0M296.0 358.0h0M251.0 386.0h0M273.0 376.0h0M419.4 213.4h0M436.6 208.4h0M443.0 214.0h0M426.0 227.4h0M430.4 228.6h0M421.0 223.0h0M415.4 231.4h0M405.4 242.0h0M394.4 253.0h0M382.6 259.0h0M379.4 267.4h0M368.0 274.0h0M364.0 279.0h0M360.0 286.0h0M355.0 289.0h0M340.0 287.0h0M345.0 297.0h0M341.0 303.0h0M334.0 312.0h0M540.0 95.0h0M543.4 95.0h0M550.4 95.0h0M541.6 109.4h0M543.4 116.4h0M533.6 114.6h0M527.4 118.0h0M522.4 123.0h0M518.4 128.0h0M507.4 127.4h0M496.4 128.0h0M503.4 132.4h0M509.4 138.4h0M503.4 140.0h0M502.0 145.0h0M485.4 157.4h0M484.4 163.4h0M471.0 177.0h0M472.4 181.4h0M453.4 189.0h0M300.0 344.0h0M305.0 341.0h0M318.0 327.0h0M322.0 322.0h0M327.0 317.0h0M330.0 314.0h0M337.0 308.0h0M331.0 315.0h0M328.0 318.0h0M358.0 287.0h0M366.0 277.0h0M414.0 232.5h0M449.0 211.0h0" stroke="#ff8c00" stroke-width="6.6" stroke-linecap="round" fill="none"/>
<path d="M124.8 518.75L557.8 85.75" stroke="#808080" stroke-width="0.95" stroke-dasharray="2.4 1.3" fill="none"/>
</g>
<rect x="125.40" y="86.40" width="433" height="433" fill="none" stroke="#cccccc" stroke-width="2.8"/>
<rect x="137.00" y="98.0" width="183" height="79.8" rx="5" ry="5" fill="#ffffff" fill-opacity="0.8" stroke="#cccccc" stroke-opacity="0.88" stroke-width="2"/>
<circle cx="171.40" cy="120.4" r="1.9" fill="#000"/>
<circle cx="171.40" cy="156.4" r="3.3" fill="#ff8c00"/>
<text transform="translate(0 126.60) scale(1.09 1)" x="199.31 207.52 216.05 230.18 236.06 250.42 256.30 270.38" font-size="25.41">training</text>
<text transform="translate(0 162.60) scale(1.09 1)" x="199.31 206.95 220.28 233.24" font-size="25.41">test</text>
<g clip-path="url(#c1)">
<g stroke="#cccccc" stroke-width="2" stroke-dasharray="8.22 3.56" fill="none">
<path d="M782.00 518.75V85.75"/>
<path d="M861.00 518.75V85.75"/>
<path d="M940.00 518.75V85.75"/>
<path d="M1019.00 518.75V85.75"/>
<path d="M1097.00 518.75V85.75"/>
<path d="M720.8 142.00H1153.8"/>
<path d="M720.8 221.00H1153.8"/>
<path d="M720.8 300.00H1153.8"/>
<path d="M720.8 378.00H1153.8"/>
<path d="M720.8 457.00H1153.8"/>
</g>
<path d="M758.8 481.5h0M758.5 483.5h0M758.3 480.1h0M758.8 484.7h0M758.7 480.2h0M758.7 480.6h0M758.9 482.5h0M758.9 480.3h0M759.4 477.2h0M759.0 477.1h0M760.0 480.2h0M759.4 481.1h0M759.3 476.6h0M759.5 481.7h0M760.7 476.1h0M760.6 477.5h0M760.4 480.5h0M760.3 480.0h0M760.2 480.1h0M760.0 480.4h0M760.0 479.3h0M760.0 485.0h0M760.9 474.7h0M760.7 478.9h0M760.0 479.2h0M761.4 477.7h0M761.7 478.9h0M761.6 480.0h0M761.8 479.2h0M762.2 475.5h0M762.1 476.0h0M762.5 477.0h0M762.6 475.9h0M763.0 475.8h0M762.9 477.0h0M762.3 481.2h0M762.7 479.4h0M762.6 470.3h0M763.3 468.5h0M763.2 477.3h0M763.0 478.8h0M763.5 477.3h0M763.9 476.5h0M763.4 472.5h0M764.9 477.8h0M764.7 475.6h0M764.8 473.5h0M764.2 479.2h0M765.5 474.3h0M766.0 471.7h0M765.8 475.3h0M765.5 480.8h0M766.2 476.6h0M766.5 476.1h0M766.0 478.1h0M766.6 472.0h0M766.6 473.4h0M766.2 473.4h0M766.2 472.4h0M767.2 466.8h0M767.7 470.5h0M767.7 471.3h0M767.3 470.6h0M767.4 471.4h0M767.0 475.3h0M767.1 474.8h0M767.5 471.2h0M767.1 472.0h0M767.7 464.5h0M768.9 472.9h0M768.4 473.4h0M768.6 466.2h0M768.3 472.3h0M768.2 473.4h0M768.3 468.0h0M768.8 471.5h0M769.4 471.7h0M769.0 470.0h0M769.7 470.0h0M769.1 469.7h0M769.9 464.9h0M770.8 469.1h0M770.3 464.2h0M770.7 467.4h0M771.9 468.3h0M771.7 470.0h0M771.2 469.0h0M771.4 465.8h0M771.0 471.0h0M771.8 469.7h0M771.1 466.9h0M772.1 474.9h0M772.9 465.0h0M772.9 468.3h0M772.7 474.8h0M773.0 466.5h0M772.4 466.6h0M772.3 466.4h0M772.6 469.7h0M773.3 469.9h0M773.8 470.1h0M773.8 464.5h0M773.6 464.5h0M773.9 467.5h0M774.9 460.5h0M775.0 464.9h0M774.9 464.3h0M774.3 468.9h0M774.6 465.3h0M774.3 463.5h0M774.2 462.2h0M774.9 461.5h0M775.1 464.2h0M775.6 468.0h0M775.3 467.4h0M775.1 465.1h0M776.3 464.5h0M776.3 461.8h0M776.3 465.7h0M776.5 458.9h0M776.7 466.5h0M776.9 464.7h0M777.0 463.0h0M777.3 463.6h0M777.8 462.4h0M777.5 461.8h0M777.5 460.9h0M777.4 461.3h0M777.4 467.2h0M777.1 460.2h0M778.1 463.0h0M778.5 461.8h0M778.4 461.2h0M778.5 459.0h0M778.9 462.1h0M778.6 461.3h0M778.7 460.3h0M778.8 464.8h0M778.0 463.4h0M779.4 459.6h0M779.5 460.9h0M779.7 459.0h0M779.0 467.7h0M779.2 463.5h0M779.8 456.0h0M779.8 459.3h0M779.3 462.9h0M779.4 461.8h0M780.8 460.1h0M780.4 456.2h0M780.4 459.9h0M780.0 459.1h0M780.7 462.3h0M780.7 460.0h0M780.3 456.8h0M780.5 458.6h0M780.6 453.6h0M781.1 461.8h0M781.4 464.6h0M781.5 460.8h0M781.6 461.3h0M782.0 460.0h0M781.7 454.7h0M781.4 457.2h0M781.4 456.6h0M782.7 456.0h0M783.0 460.6h0M783.8 455.8h0M783.4 459.8h0M783.6 458.4h0M783.8 459.3h0M783.7 460.1h0M784.4 456.7h0M784.8 451.2h0M784.2 458.3h0M784.3 452.8h0M784.7 456.3h0M784.4 463.4h0M784.8 447.8h0M784.6 456.1h0M785.4 452.4h0M785.2 457.6h0M786.0 453.2h0M786.6 452.3h0M786.5 454.1h0M786.6 447.4h0M786.6 456.2h0M786.2 454.4h0M787.5 450.2h0M787.7 448.6h0M787.1 453.0h0M787.8 449.7h0M787.9 459.1h0M788.6 452.7h0M788.2 454.7h0M788.0 455.8h0M788.3 449.6h0M788.6 447.3h0M788.8 453.6h0M789.2 450.4h0M789.5 450.4h0M789.4 453.8h0M789.0 448.7h0M789.2 454.7h0M790.2 452.4h0M790.8 449.7h0M790.6 447.6h0M790.6 444.9h0M790.0 450.4h0M790.7 449.3h0M791.0 452.6h0M791.4 450.6h0M792.1 447.2h0M792.5 443.6h0M792.7 448.1h0M792.2 450.2h0M792.5 452.4h0M792.7 445.2h0M792.4 451.2h0M792.6 445.9h0M793.1 450.5h0M793.8 454.0h0M793.9 447.4h0M793.1 442.7h0M793.9 442.7h0M793.6 447.2h0M793.2 449.5h0M793.3 448.9h0M794.2 439.3h0M794.5 451.7h0M795.0 440.3h0M794.6 445.8h0M794.3 438.2h0M794.1 450.4h0M794.9 442.8h0M795.7 444.0h0M795.1 445.7h0M795.4 441.1h0M795.0 441.4h0M796.6 441.8h0M796.5 444.8h0M796.9 442.3h0M796.7 446.1h0M797.6 443.8h0M797.9 435.7h0M797.3 444.3h0M797.0 443.8h0M797.5 440.3h0M798.8 440.3h0M798.6 446.1h0M798.2 434.9h0M798.7 437.7h0M799.2 439.3h0M799.9 438.5h0M799.2 445.2h0M799.5 447.5h0M800.5 442.0h0M800.8 439.4h0M800.2 436.0h0M800.3 439.0h0M801.4 439.2h0M801.3 440.9h0M802.0 441.6h0M801.3 438.5h0M801.3 441.1h0M801.9 440.3h0M802.8 444.0h0M802.8 437.5h0M802.5 439.9h0M802.7 435.0h0M803.2 439.6h0M803.1 431.1h0M803.0 437.8h0M803.6 440.6h0M803.1 427.5h0M803.5 443.1h0M803.4 438.0h0M804.1 434.0h0M804.0 439.5h0M804.6 433.7h0M804.3 433.9h0M804.3 434.8h0M804.7 441.6h0M805.0 436.4h0M804.5 431.3h0M804.8 437.0h0M804.9 433.7h0M805.3 432.2h0M805.8 435.3h0M805.2 439.0h0M805.1 431.6h0M805.1 434.1h0M805.1 431.5h0M806.5 433.3h0M806.4 431.6h0M806.5 434.4h0M806.7 433.4h0M806.2 426.1h0M807.9 430.1h0M807.4 438.8h0M807.4 439.8h0M807.7 434.5h0M807.9 430.0h0M807.9 434.6h0M807.5 429.3h0M807.1 435.6h0M808.7 430.8h0M808.6 436.5h0M808.4 433.4h0M808.6 434.8h0M808.2 426.8h0M808.7 430.3h0M809.7 429.1h0M809.9 433.0h0M809.9 439.2h0M809.4 430.2h0M809.9 435.8h0M809.1 432.8h0M809.9 426.3h0M810.0 440.9h0M810.0 428.9h0M810.9 431.4h0M810.9 428.3h0M810.4 431.1h0M810.2 430.3h0M810.8 429.3h0M810.2 425.4h0M811.7 423.0h0M811.5 427.6h0M811.6 425.6h0M811.3 424.8h0M811.2 427.3h0M811.9 430.9h0M811.0 424.2h0M812.0 424.2h0M812.8 429.6h0M812.1 430.7h0M812.5 429.3h0M812.7 419.6h0M812.7 431.3h0M812.7 419.5h0M812.7 422.3h0M812.3 422.2h0M812.2 430.1h0M813.1 427.7h0M813.2 425.4h0M814.6 422.0h0M814.9 425.2h0M814.2 421.7h0M814.5 426.3h0M814.4 425.9h0M814.5 426.5h0M814.3 422.0h0M814.7 418.8h0M814.9 426.8h0M815.0 426.3h0M815.9 427.0h0M815.4 418.8h0M815.4 420.9h0M815.8 421.2h0M815.5 419.9h0M816.3 426.3h0M816.3 417.9h0M816.7 421.7h0M816.7 426.8h0M816.4 425.2h0M817.8 420.3h0M817.1 409.4h0M817.8 423.7h0M817.1 422.0h0M817.6 414.0h0M817.7 418.5h0M818.0 415.9h0M818.9 417.7h0M818.7 419.8h0M818.8 422.3h0M818.3 417.0h0M818.4 420.3h0M819.5 420.1h0M819.2 419.4h0M819.3 418.7h0M819.6 417.8h0M819.7 417.5h0M819.1 416.6h0M819.3 419.9h0M820.3 424.4h0M820.4 410.4h0M820.3 418.0h0M820.5 419.2h0M821.0 419.3h0M820.5 412.0h0M821.5 418.0h0M821.8 421.8h0M821.7 413.0h0M822.9 406.4h0M822.7 416.2h0M822.1 415.5h0M822.7 416.0h0M822.9 419.2h0M822.2 416.1h0M822.5 414.2h0M822.2 424.7h0M822.7 419.0h0M822.7 416.3h0M823.5 417.3h0M823.3 421.6h0M823.0 420.0h0M823.1 418.1h0M823.4 420.9h0M823.4 422.6h0M824.8 419.4h0M824.8 418.5h0M824.3 413.8h0M824.1 415.7h0M824.9 404.1h0M824.2 415.0h0M825.2 419.2h0M825.9 417.9h0M825.9 413.9h0M825.2 404.6h0M825.8 410.2h0M825.8 413.4h0M825.0 420.4h0M825.9 409.4h0M825.0 415.2h0M826.4 409.6h0M826.7 419.1h0M826.3 415.7h0M826.7 411.1h0M826.7 414.4h0M826.7 407.4h0M826.3 411.0h0M826.8 413.5h0M827.5 408.1h0M827.9 404.3h0M827.9 414.4h0M827.9 412.5h0M827.8 411.2h0M828.9 413.1h0M828.4 410.0h0M828.7 409.1h0M828.1 411.2h0M828.2 413.3h0M828.4 404.0h0M828.3 410.5h0M828.5 403.8h0M829.7 412.3h0M829.8 418.9h0M829.2 410.1h0M830.5 407.0h0M830.0 406.7h0M830.6 412.2h0M830.9 411.3h0M830.3 411.5h0M830.8 416.5h0M830.8 405.1h0M830.4 407.2h0M831.0 405.4h0M831.0 414.4h0M831.8 405.8h0M831.4 404.0h0M832.4 417.2h0M832.1 407.5h0M832.8 410.1h0M832.6 406.7h0M832.5 409.6h0M832.0 412.9h0M833.8 407.1h0M833.0 405.3h0M834.0 405.6h0M834.9 409.3h0M834.3 406.2h0M834.4 402.1h0M834.6 408.4h0M834.2 407.9h0M834.3 405.7h0M834.3 399.3h0M835.8 406.4h0M835.7 401.5h0M835.3 408.6h0M835.7 403.3h0M836.3 409.9h0M836.7 397.2h0M836.8 403.7h0M836.8 407.2h0M836.0 407.0h0M837.6 409.0h0M837.8 398.7h0M837.6 399.9h0M837.1 396.2h0M837.7 402.4h0M838.3 401.9h0M838.6 403.4h0M839.5 397.3h0M840.0 398.7h0M839.3 400.5h0M839.5 403.9h0M839.8 400.2h0M839.8 392.7h0M839.9 399.9h0M839.8 397.5h0M839.6 399.5h0M839.0 402.8h0M840.4 397.7h0M840.5 399.1h0M840.9 396.2h0M840.4 405.8h0M840.1 390.0h0M840.4 393.0h0M840.3 394.3h0M840.6 399.1h0M841.3 395.1h0M841.4 397.6h0M841.7 397.4h0M841.7 391.4h0M841.6 406.8h0M841.2 403.8h0M841.2 403.5h0M841.5 404.8h0M841.7 398.1h0M842.0 398.6h0M841.3 399.3h0M841.2 398.9h0M842.6 403.1h0M842.9 394.7h0M842.9 401.0h0M842.7 397.2h0M842.7 396.7h0M842.4 401.9h0M842.5 395.0h0M842.7 399.4h0M842.8 386.4h0M842.9 394.1h0M842.0 399.8h0M842.3 410.2h0M842.3 396.5h0M842.5 394.7h0M842.6 404.7h0M843.3 396.8h0M844.0 393.8h0M843.9 398.6h0M843.9 395.3h0M843.3 385.1h0M844.3 398.4h0M844.0 397.1h0M844.9 396.1h0M844.4 398.5h0M844.9 391.6h0M844.8 391.4h0M844.3 392.0h0M845.8 390.4h0M845.1 393.5h0M845.3 392.3h0M845.9 392.2h0M845.8 393.1h0M845.9 391.7h0M845.2 395.0h0M845.0 390.5h0M845.2 389.7h0M846.6 396.3h0M846.5 397.2h0M846.6 400.9h0M846.5 388.2h0M846.5 392.5h0M846.7 386.4h0M846.3 396.9h0M846.6 399.4h0M846.2 393.1h0M846.7 397.6h0M846.2 384.3h0M846.5 393.0h0M846.6 389.4h0M847.5 385.9h0M847.8 390.7h0M847.7 392.2h0M847.1 391.1h0M847.7 398.7h0M847.2 392.7h0M847.1 387.3h0M848.4 395.6h0M848.8 392.5h0M848.4 391.9h0M848.7 391.7h0M848.4 391.2h0M848.8 390.6h0M849.4 386.3h0M849.6 393.4h0M849.4 390.4h0M850.0 386.6h0M849.5 391.4h0M849.7 386.4h0M849.2 399.6h0M849.6 389.5h0M849.4 384.9h0M850.2 392.6h0M850.1 382.3h0M850.1 386.1h0M851.0 385.8h0M850.8 390.8h0M850.9 378.3h0M850.7 390.1h0M850.8 384.1h0M850.2 393.3h0M850.2 386.9h0M851.9 384.5h0M851.7 384.2h0M851.9 385.2h0M851.0 392.5h0M851.8 381.6h0M851.4 390.7h0M851.5 388.4h0M852.8 392.5h0M852.3 381.9h0M852.4 379.0h0M852.3 393.6h0M852.6 380.1h0M852.2 391.9h0M853.8 383.8h0M853.3 391.2h0M853.2 386.4h0M853.1 380.2h0M853.4 382.1h0M853.4 388.8h0M853.5 387.3h0M853.9 380.1h0M854.1 383.3h0M854.6 387.0h0M854.6 391.9h0M854.3 385.5h0M854.9 381.9h0M854.0 387.7h0M854.5 381.8h0M855.0 378.0h0M854.6 380.8h0M855.3 388.1h0M855.3 386.6h0M855.5 380.6h0M855.5 385.7h0M855.4 379.4h0M855.5 387.5h0M855.7 375.4h0M856.2 378.6h0M856.6 388.8h0M857.0 380.0h0M856.2 377.3h0M856.6 380.5h0M856.3 390.3h0M857.6 376.8h0M857.7 380.7h0M857.6 371.3h0M857.2 382.9h0M857.9 383.7h0M857.0 384.2h0M857.2 383.8h0M858.4 382.3h0M858.9 383.2h0M858.7 376.5h0M858.3 387.9h0M858.2 377.9h0M859.1 382.1h0M859.4 383.3h0M859.5 385.3h0M859.8 376.1h0M860.6 378.3h0M860.4 372.9h0M860.6 377.9h0M860.9 380.2h0M860.9 380.7h0M860.5 375.5h0M860.7 382.7h0M860.2 380.0h0M861.5 380.9h0M861.5 377.5h0M861.6 382.7h0M861.3 386.8h0M862.0 382.5h0M861.8 377.1h0M861.9 374.7h0M861.6 377.1h0M861.2 370.8h0M861.1 382.4h0M861.3 381.7h0M861.1 377.6h0M861.7 385.0h0M861.7 380.8h0M861.9 387.0h0M862.8 376.2h0M862.3 373.7h0M862.1 371.2h0M862.9 375.1h0M862.5 380.9h0M862.4 379.4h0M862.3 382.9h0M862.3 372.2h0M862.7 375.8h0M862.3 383.7h0M862.4 379.9h0M863.8 371.5h0M863.4 381.0h0M863.4 376.8h0M863.1 377.4h0M863.4 375.4h0M864.4 366.5h0M864.6 386.1h0M864.9 381.5h0M864.1 369.2h0M864.9 375.6h0M864.7 372.6h0M864.7 376.0h0M864.0 384.1h0M864.9 375.7h0M865.1 372.8h0M865.2 378.2h0M865.4 375.4h0M866.0 373.5h0M865.8 373.9h0M865.2 380.4h0M866.6 374.6h0M866.8 376.2h0M866.3 380.0h0M866.1 379.0h0M866.1 373.9h0M866.7 367.7h0M866.3 374.4h0M866.5 376.7h0M868.0 375.8h0M867.5 371.4h0M867.7 371.1h0M867.2 369.0h0M867.1 377.6h0M867.7 366.1h0M867.6 370.4h0M868.6 360.7h0M868.2 377.5h0M868.3 376.9h0M868.1 368.2h0M868.1 363.1h0M868.7 370.8h0M868.3 375.1h0M869.7 361.0h0M869.7 360.9h0M869.9 372.2h0M869.9 366.5h0M869.6 371.1h0M869.7 371.0h0M870.2 369.2h0M870.2 368.7h0M870.0 366.5h0M870.2 369.3h0M871.0 364.1h0M870.4 365.1h0M871.7 365.4h0M871.7 369.5h0M871.7 366.9h0M871.7 375.1h0M871.3 370.4h0M871.6 366.9h0M871.7 367.4h0M873.0 370.4h0M872.9 362.6h0M872.6 370.6h0M872.8 372.3h0M872.2 366.2h0M872.1 365.8h0M872.0 374.9h0M872.1 365.2h0M872.6 367.4h0M873.8 361.2h0M873.1 365.5h0M873.7 370.1h0M873.2 364.7h0M874.1 371.5h0M874.2 367.3h0M874.6 363.5h0M874.6 367.6h0M874.9 364.9h0M874.1 365.9h0M874.8 365.4h0M874.5 369.7h0M874.6 359.3h0M874.1 367.3h0M874.1 364.9h0M875.9 362.2h0M875.8 369.0h0M875.5 364.1h0M875.1 370.3h0M875.1 367.0h0M875.1 368.4h0M875.8 365.5h0M875.7 361.1h0M875.3 369.0h0M876.5 368.9h0M876.3 364.0h0M876.8 360.8h0M876.5 360.8h0M876.7 360.0h0M876.5 368.6h0M876.6 356.7h0M876.7 369.0h0M877.6 361.0h0M877.3 367.4h0M877.2 367.0h0M877.7 363.3h0M877.3 362.2h0M877.9 359.9h0M877.6 379.3h0M879.0 361.4h0M878.4 359.1h0M878.7 359.0h0M878.4 363.1h0M878.5 358.7h0M878.8 362.3h0M878.6 357.0h0M878.3 360.2h0M878.6 361.2h0M878.6 361.7h0M879.8 364.3h0M879.6 361.9h0M879.8 356.9h0M879.8 358.9h0M879.7 356.2h0M880.5 361.1h0M880.8 359.2h0M880.1 362.6h0M881.0 354.9h0M880.1 364.6h0M880.7 363.8h0M881.9 362.2h0M881.7 363.3h0M881.4 348.5h0M881.5 355.4h0M881.7 356.8h0M881.8 354.3h0M883.0 353.0h0M882.5 355.4h0M882.7 359.4h0M883.2 361.0h0M883.2 359.1h0M883.5 358.2h0M884.0 359.1h0M883.6 355.0h0M883.8 350.1h0M883.4 350.3h0M883.6 361.5h0M884.0 353.8h0M883.6 360.0h0M884.5 343.6h0M884.9 352.4h0M884.0 360.0h0M884.8 357.2h0M884.0 355.2h0M884.4 353.0h0M885.0 357.4h0M885.4 348.9h0M885.4 350.1h0M885.6 354.4h0M885.9 349.9h0M885.7 356.3h0M885.7 353.7h0M885.1 361.6h0M885.9 351.4h0M886.4 358.0h0M886.7 352.6h0M886.1 359.1h0M886.1 349.3h0M886.4 357.0h0M886.3 355.7h0M886.2 359.9h0M887.5 351.4h0M887.6 353.5h0M887.3 346.9h0M887.9 361.0h0M887.2 351.4h0M888.7 351.2h0M888.4 351.3h0M888.7 350.5h0M888.9 345.3h0M888.0 348.1h0M888.0 351.6h0M888.7 346.9h0M888.5 354.3h0M888.5 356.2h0M888.8 353.9h0M888.6 354.9h0M889.0 345.6h0M889.7 348.0h0M889.7 351.0h0M889.6 347.7h0M889.3 348.7h0M890.3 342.3h0M890.6 357.3h0M890.4 349.6h0M890.4 349.5h0M890.1 347.3h0M890.9 351.3h0M890.2 339.8h0M891.0 347.8h0M890.5 347.4h0M890.7 348.7h0M890.4 352.0h0M890.7 353.6h0M890.4 347.5h0M890.9 346.9h0M891.7 351.0h0M891.4 347.5h0M891.2 351.1h0M891.5 346.2h0M891.1 347.5h0M891.2 346.8h0M891.1 350.0h0M891.2 349.1h0M891.5 347.8h0M891.3 352.9h0M891.2 346.8h0M892.3 339.7h0M892.1 349.7h0M892.5 338.3h0M892.9 349.8h0M892.4 346.3h0M892.8 350.6h0M892.3 349.5h0M893.0 343.0h0M893.0 341.7h0M892.0 346.2h0M892.2 349.3h0M892.1 353.0h0M893.8 348.6h0M893.8 345.0h0M893.5 347.3h0M894.0 357.0h0M893.3 346.6h0M893.2 343.9h0M893.2 345.2h0M893.2 339.2h0M894.7 345.9h0M894.6 345.8h0M894.6 350.0h0M894.8 350.1h0M894.0 347.6h0M894.7 351.4h0M894.0 343.1h0M895.8 342.2h0M895.2 335.0h0M895.5 339.9h0M895.2 339.6h0M895.4 336.5h0M895.6 350.3h0M896.6 342.3h0M896.6 343.6h0M896.5 340.6h0M896.3 335.4h0M897.0 344.7h0M897.1 342.8h0M897.2 346.5h0M898.0 331.8h0M897.8 336.0h0M897.1 343.8h0M897.7 340.7h0M897.8 349.2h0M897.9 335.0h0M897.5 347.2h0M898.5 346.2h0M898.3 340.1h0M899.2 343.1h0M899.3 338.9h0M899.4 336.2h0M899.9 338.1h0M900.2 335.3h0M900.7 341.4h0M900.8 337.1h0M900.4 333.8h0M900.6 338.5h0M900.6 337.4h0M900.8 341.7h0M901.1 333.4h0M901.1 341.6h0M901.5 332.7h0M901.3 339.0h0M901.2 333.6h0M901.6 345.3h0M901.5 324.8h0M902.3 330.4h0M902.2 337.4h0M902.0 334.4h0M902.6 332.1h0M902.6 333.2h0M902.4 334.8h0M902.9 334.4h0M902.7 336.3h0M902.5 344.7h0M902.5 333.0h0M902.2 346.1h0M902.9 336.2h0M902.8 341.3h0M902.6 333.7h0M902.3 339.7h0M903.1 342.0h0M903.3 336.2h0M904.0 345.1h0M903.7 332.1h0M903.6 339.7h0M903.8 342.3h0M903.2 337.1h0M903.7 329.1h0M904.0 336.0h0M903.6 328.7h0M903.6 345.7h0M903.4 328.4h0M904.7 331.3h0M904.7 340.1h0M904.0 331.3h0M904.2 339.1h0M904.2 338.7h0M904.6 336.1h0M904.4 343.1h0M904.4 335.5h0M905.7 334.0h0M905.6 333.4h0M905.0 332.0h0M905.4 332.5h0M905.0 330.5h0M905.5 323.2h0M906.6 337.8h0M906.8 332.1h0M906.3 330.2h0M906.7 332.8h0M906.5 328.6h0M906.4 335.8h0M906.5 333.5h0M906.4 332.7h0M906.8 330.9h0M907.9 331.9h0M907.1 337.1h0M907.5 326.2h0M908.0 329.5h0M907.2 336.7h0M907.2 333.6h0M907.5 329.6h0M908.1 322.2h0M908.2 334.8h0M908.4 329.7h0M908.2 331.9h0M909.7 336.5h0M909.9 335.8h0M910.0 327.5h0M909.5 331.7h0M910.0 322.4h0M909.9 326.8h0M910.3 335.7h0M910.5 322.3h0M910.9 331.4h0M910.4 323.0h0M910.6 327.3h0M910.3 326.1h0M910.8 334.7h0M911.7 326.3h0M911.3 327.8h0M911.3 330.0h0M911.2 322.8h0M911.5 328.4h0M912.5 329.3h0M912.6 324.8h0M912.6 328.2h0M912.1 329.3h0M912.8 328.9h0M912.1 329.9h0M913.2 323.7h0M913.3 330.4h0M913.3 330.3h0M913.9 330.9h0M914.5 326.6h0M914.4 323.0h0M914.7 330.9h0M914.8 325.7h0M914.6 326.3h0M914.5 322.6h0M914.6 324.4h0M914.9 319.4h0M915.7 321.8h0M915.2 328.2h0M916.0 323.6h0M915.8 321.1h0M915.7 315.5h0M915.5 324.3h0M915.4 321.6h0M915.2 325.5h0M916.4 322.3h0M916.4 325.2h0M916.3 315.5h0M916.4 317.5h0M917.7 329.9h0M917.4 327.9h0M917.4 324.0h0M917.3 328.1h0M917.1 328.7h0M918.5 322.4h0M918.0 322.4h0M918.1 309.5h0M918.7 319.4h0M918.2 314.5h0M918.3 323.8h0M918.9 331.2h0M919.0 315.4h0M918.9 317.6h0M918.2 308.8h0M919.5 307.0h0M919.8 323.3h0M919.4 317.8h0M919.7 318.6h0M919.0 316.2h0M919.5 315.8h0M919.6 318.4h0M919.3 318.7h0M919.6 314.3h0M919.2 315.1h0M920.0 322.2h0M920.8 319.8h0M920.7 329.2h0M920.5 323.1h0M920.8 321.4h0M920.1 316.9h0M921.2 317.8h0M921.8 313.4h0M921.8 316.5h0M921.8 322.0h0M921.4 328.3h0M921.1 317.3h0M921.9 313.7h0M921.3 319.8h0M922.6 311.5h0M922.8 313.6h0M922.5 314.4h0M922.5 316.8h0M922.9 316.0h0M922.2 313.5h0M922.8 319.9h0M922.8 326.0h0M922.1 311.9h0M924.0 317.5h0M924.0 314.3h0M923.4 313.2h0M923.7 311.1h0M924.1 310.1h0M924.6 308.0h0M924.5 311.2h0M925.9 308.5h0M925.5 313.0h0M925.4 314.2h0M925.6 307.4h0M925.7 313.2h0M925.4 308.5h0M925.8 313.8h0M926.4 311.9h0M926.5 313.1h0M926.4 321.1h0M926.4 310.4h0M926.1 316.9h0M926.9 315.7h0M926.1 312.2h0M926.8 310.1h0M927.1 317.8h0M927.2 308.5h0M927.3 309.8h0M927.1 320.3h0M927.8 306.9h0M927.1 308.5h0M927.2 313.6h0M928.1 311.3h0M928.1 317.8h0M928.5 318.8h0M928.9 310.6h0M928.4 312.5h0M929.0 313.0h0M929.6 299.6h0M929.6 312.8h0M929.0 309.2h0M929.2 304.8h0M929.3 306.3h0M929.3 309.9h0M929.9 308.4h0M929.5 318.0h0M930.2 308.4h0M930.8 312.5h0M930.1 305.7h0M930.9 304.2h0M930.0 306.0h0M930.7 306.0h0M931.7 311.5h0M931.5 319.0h0M931.5 302.7h0M931.5 306.6h0M931.4 304.7h0M932.3 312.7h0M932.9 302.0h0M932.4 304.3h0M932.9 307.8h0M932.5 306.1h0M932.7 312.3h0M932.9 310.9h0M932.4 306.2h0M932.5 307.8h0M932.3 306.8h0M933.0 303.2h0M932.4 310.9h0M932.8 307.2h0M932.3 305.5h0M933.6 311.2h0M933.1 303.8h0M933.8 304.3h0M933.7 307.4h0M933.9 307.4h0M933.2 298.7h0M933.0 310.7h0M934.0 296.5h0M934.7 310.8h0M934.9 307.6h0M935.6 307.3h0M935.0 301.9h0M935.2 303.1h0M935.3 303.0h0M935.5 296.3h0M935.3 302.1h0M936.3 303.9h0M936.2 311.0h0M936.7 298.3h0M936.3 300.8h0M936.4 309.8h0M936.1 312.0h0M936.5 301.2h0M936.1 310.4h0M936.7 301.4h0M937.1 311.2h0M937.3 304.3h0M937.2 298.4h0M937.7 296.9h0M937.8 304.5h0M938.4 293.2h0M938.2 303.0h0M938.0 299.8h0M938.8 307.7h0M938.4 300.3h0M938.2 302.8h0M938.9 301.9h0M939.0 293.2h0M938.7 296.1h0M938.9 301.4h0M938.4 301.9h0M938.7 290.1h0M938.7 295.9h0M939.6 295.1h0M939.9 302.6h0M939.6 304.4h0M939.4 290.6h0M939.4 298.3h0M939.2 308.0h0M940.9 299.4h0M940.2 293.9h0M940.5 302.1h0M940.1 301.5h0M940.8 295.1h0M940.1 300.9h0M940.0 294.2h0M941.8 292.9h0M941.7 309.3h0M941.3 296.6h0M941.3 298.4h0M942.4 293.3h0M942.2 307.2h0M942.5 296.4h0M942.3 303.0h0M942.2 296.8h0M943.0 300.8h0M943.8 295.0h0M943.1 291.2h0M943.1 290.9h0M943.1 300.2h0M943.4 296.6h0M943.9 291.7h0M944.9 294.8h0M944.5 303.0h0M944.0 298.1h0M944.8 299.0h0M944.9 302.8h0M945.8 287.6h0M945.9 295.6h0M946.0 293.9h0M945.0 294.1h0M945.5 296.6h0M945.5 292.4h0M945.6 285.3h0M946.5 296.1h0M946.2 288.5h0M946.0 302.4h0M946.3 293.3h0M946.8 294.2h0M946.9 295.3h0M947.6 290.3h0M947.5 291.1h0M947.5 291.5h0M947.9 294.2h0M947.0 291.2h0M947.9 288.1h0M947.3 290.8h0M947.8 293.5h0M948.3 279.8h0M948.6 286.7h0M948.0 295.2h0M948.4 291.7h0M948.6 299.1h0M948.3 290.9h0M948.7 290.9h0M948.0 289.8h0M948.3 291.4h0M949.6 287.9h0M949.7 281.4h0M949.5 289.5h0M949.7 295.5h0M949.6 297.0h0M949.5 290.0h0M950.6 287.9h0M950.7 288.4h0M950.1 292.5h0M950.3 296.8h0M950.8 294.3h0M950.6 292.3h0M950.0 291.9h0M950.6 282.7h0M951.9 291.2h0M951.5 285.1h0M951.0 292.1h0M952.6 286.8h0M952.7 293.9h0M952.2 288.1h0M952.7 288.9h0M952.8 288.8h0M952.1 295.0h0M952.8 291.3h0M952.4 290.6h0M952.9 284.5h0M953.0 288.2h0M952.7 288.5h0M954.0 294.1h0M953.4 287.2h0M953.1 293.5h0M953.2 293.9h0M953.5 286.6h0M953.6 291.3h0M953.8 291.4h0M953.4 287.2h0M953.6 280.4h0M953.7 289.2h0M953.8 283.5h0M954.0 283.3h0M953.1 287.1h0M954.8 286.1h0M954.6 282.1h0M954.8 284.5h0M954.2 284.0h0M954.8 284.7h0M954.6 284.5h0M955.6 286.1h0M955.6 291.8h0M955.1 283.6h0M955.1 279.8h0M955.8 282.2h0M955.2 286.6h0M955.7 282.5h0M956.9 286.4h0M956.0 279.3h0M956.8 282.9h0M956.7 284.4h0M956.7 284.4h0M957.8 280.6h0M957.4 284.0h0M958.0 279.5h0M957.3 279.4h0M957.7 285.0h0M957.8 281.8h0M957.4 279.9h0M958.4 281.1h0M958.8 286.1h0M958.0 282.2h0M958.0 282.4h0M958.0 290.0h0M959.0 283.0h0M959.5 274.3h0M959.4 279.3h0M959.2 279.3h0M959.8 281.6h0M959.6 276.8h0M960.2 265.7h0M960.2 277.9h0M960.8 284.3h0M960.8 282.6h0M960.0 281.5h0M961.1 278.4h0M961.1 280.3h0M961.4 279.9h0M961.5 282.6h0M961.6 283.2h0M961.6 277.1h0M961.4 283.5h0M962.8 274.8h0M962.3 286.8h0M962.6 275.2h0M962.9 279.5h0M962.0 279.2h0M962.0 282.5h0M963.5 279.2h0M963.0 270.8h0M963.7 285.4h0M963.3 280.3h0M963.5 271.3h0M965.0 275.1h0M964.6 277.4h0M964.6 275.4h0M964.9 271.2h0M964.7 270.5h0M964.5 277.1h0M964.2 279.4h0M965.0 274.3h0M965.1 277.6h0M965.4 264.7h0M965.5 274.0h0M966.5 273.7h0M966.0 273.7h0M966.3 274.6h0M967.9 269.9h0M967.5 269.1h0M967.0 271.9h0M967.8 278.0h0M967.9 277.2h0M967.9 274.4h0M967.4 276.6h0M967.6 269.9h0M968.3 272.8h0M968.1 259.9h0M968.3 264.3h0M968.8 290.0h0M968.5 267.2h0M968.8 271.4h0M968.7 267.7h0M968.2 272.4h0M968.3 263.6h0M968.2 279.7h0M969.2 266.3h0M969.5 271.8h0M969.7 272.0h0M970.0 267.0h0M970.5 264.0h0M970.8 265.0h0M970.5 274.9h0M971.0 264.5h0M971.2 267.6h0M971.4 266.7h0M971.7 264.7h0M971.0 269.6h0M972.6 270.8h0M972.0 268.6h0M972.2 268.9h0M972.4 262.9h0M972.8 262.3h0M972.2 264.3h0M972.1 270.0h0M972.0 266.7h0M972.6 264.4h0M972.3 276.3h0M972.4 268.5h0M973.6 271.8h0M973.5 267.7h0M973.3 266.4h0M973.0 266.2h0M973.1 269.0h0M973.4 261.9h0M973.6 270.4h0M974.0 264.0h0M974.4 261.6h0M974.5 265.7h0M974.3 266.0h0M974.2 267.0h0M974.5 269.9h0M974.4 269.8h0M975.9 274.4h0M975.5 262.7h0M975.8 263.7h0M975.5 263.8h0M975.4 261.7h0M975.3 264.3h0M977.0 261.0h0M976.2 273.4h0M976.8 267.7h0M976.7 270.7h0M976.2 267.3h0M976.6 266.8h0M976.1 267.8h0M976.2 270.7h0M976.5 272.5h0M977.7 265.6h0M978.0 265.8h0M977.9 263.6h0M977.7 256.3h0M977.2 265.3h0M977.6 259.5h0M977.1 264.8h0M978.2 257.8h0M978.8 260.0h0M978.5 262.8h0M978.7 272.0h0M978.8 271.6h0M979.0 263.5h0M978.0 259.7h0M979.8 257.2h0M979.1 267.1h0M979.1 261.5h0M979.1 257.2h0M979.5 264.1h0M979.7 268.5h0M979.5 262.0h0M980.7 257.3h0M980.1 267.3h0M981.0 261.2h0M980.2 261.0h0M981.7 249.0h0M981.1 260.5h0M981.4 250.5h0M981.6 256.1h0M981.6 254.6h0M982.7 249.8h0M982.4 257.3h0M982.2 259.9h0M982.7 253.3h0M983.4 256.1h0M983.2 243.2h0M983.2 263.5h0M983.8 262.0h0M983.5 257.5h0M983.1 251.3h0M983.7 252.4h0M983.7 254.5h0M983.9 254.3h0M984.4 255.6h0M984.8 245.9h0M984.2 263.3h0M984.3 254.2h0M984.8 256.2h0M984.7 259.8h0M984.5 250.3h0M984.7 254.8h0M985.7 257.0h0M985.3 252.6h0M985.6 252.9h0M985.5 251.5h0M985.2 249.7h0M985.8 253.2h0M985.1 255.7h0M985.1 254.6h0M985.5 251.0h0M985.4 255.6h0M985.0 258.4h0M985.0 257.2h0M985.2 251.7h0M985.5 255.8h0M987.0 251.1h0M986.9 255.0h0M986.8 252.1h0M986.7 261.1h0M986.4 248.7h0M986.7 244.0h0M986.8 250.0h0M986.0 257.9h0M987.6 256.3h0M987.7 246.1h0M987.1 258.4h0M987.7 250.7h0M987.2 246.7h0M988.5 248.1h0M988.6 253.7h0M988.9 244.5h0M988.3 249.7h0M988.9 253.0h0M988.7 244.8h0M988.2 251.0h0M989.4 248.8h0M989.2 260.9h0M989.2 247.1h0M989.8 258.3h0M989.5 247.4h0M989.1 257.4h0M989.1 259.2h0M989.8 251.7h0M990.4 253.0h0M990.6 245.5h0M990.8 244.2h0M990.5 243.8h0M990.7 243.8h0M990.5 247.4h0M990.8 244.1h0M990.2 252.7h0M990.6 249.3h0M991.7 248.2h0M991.8 249.1h0M991.9 238.0h0M991.2 255.3h0M992.9 252.7h0M992.2 251.6h0M992.9 240.0h0M992.8 253.5h0M992.8 244.0h0M992.2 249.9h0M992.1 254.6h0M992.5 253.2h0M992.3 243.8h0M992.3 242.6h0M992.2 256.6h0M993.9 253.7h0M993.4 244.3h0M993.9 240.3h0M993.6 252.0h0M993.3 243.6h0M993.2 243.9h0M993.1 245.6h0M994.1 246.5h0M994.3 248.8h0M994.8 248.1h0M994.6 241.4h0M994.8 250.4h0M995.0 242.7h0M995.8 247.6h0M995.4 237.8h0M995.5 244.7h0M995.8 242.6h0M996.1 248.9h0M996.3 242.0h0M996.2 243.8h0M996.4 232.3h0M996.2 248.0h0M996.4 241.8h0M996.4 243.0h0M997.5 236.0h0M997.4 247.1h0M997.0 240.8h0M997.3 246.2h0M997.6 238.0h0M997.4 240.7h0M997.3 245.4h0M997.1 243.2h0M997.3 243.3h0M998.5 242.2h0M998.1 247.6h0M998.0 239.6h0M998.4 239.6h0M998.5 243.1h0M998.6 250.7h0M999.1 244.3h0M999.2 239.3h0M999.9 228.2h0M999.2 238.9h0M999.9 239.8h0M999.5 247.3h0M999.7 234.5h0M1000.8 234.8h0M1000.0 233.6h0M1000.9 238.1h0M1000.3 241.9h0M1000.2 235.4h0M1000.9 238.6h0M1000.2 232.9h0M1000.4 224.2h0M1001.1 239.2h0M1001.4 242.1h0M1001.2 236.6h0M1001.7 233.4h0M1001.6 255.5h0M1001.5 244.2h0M1001.4 255.9h0M1001.9 237.1h0M1002.6 235.6h0M1002.8 236.5h0M1002.9 235.7h0M1002.2 237.6h0M1002.1 236.7h0M1002.1 240.6h0M1002.0 237.6h0M1002.7 232.2h0M1002.3 239.9h0M1002.5 237.9h0M1003.5 240.4h0M1004.0 246.1h0M1003.7 237.6h0M1003.3 236.0h0M1004.6 234.1h0M1004.4 246.7h0M1004.9 230.0h0M1004.1 233.7h0M1004.9 231.9h0M1004.1 238.2h0M1004.0 233.8h0M1004.6 235.8h0M1004.7 236.5h0M1004.4 238.6h0M1005.5 232.0h0M1005.5 232.2h0M1005.4 232.8h0M1005.3 237.0h0M1005.6 233.7h0M1005.5 239.9h0M1005.6 241.4h0M1007.0 238.6h0M1006.8 236.1h0M1006.1 238.8h0M1006.1 226.8h0M1006.9 227.2h0M1006.4 238.6h0M1006.7 231.4h0M1006.4 237.3h0M1007.5 229.3h0M1007.9 225.2h0M1007.1 235.0h0M1007.9 243.9h0M1007.3 225.9h0M1008.5 230.2h0M1008.1 231.7h0M1008.1 233.5h0M1008.5 232.7h0M1008.7 229.2h0M1009.4 225.7h0M1009.6 236.5h0M1010.0 224.6h0M1009.5 224.2h0M1010.1 227.7h0M1011.0 237.4h0M1010.2 236.0h0M1010.2 228.1h0M1010.7 233.5h0M1010.8 223.9h0M1011.0 229.7h0M1011.0 220.3h0M1011.4 227.9h0M1011.1 224.5h0M1011.1 228.7h0M1011.8 215.4h0M1011.4 226.8h0M1011.2 229.7h0M1011.9 238.4h0M1011.8 227.7h0M1012.8 228.7h0M1012.8 219.4h0M1012.5 219.1h0M1012.9 228.4h0M1012.6 224.9h0M1012.4 223.1h0M1012.7 226.0h0M1012.1 228.4h0M1013.8 216.3h0M1014.0 232.6h0M1013.9 231.1h0M1013.9 220.9h0M1013.1 226.0h0M1014.7 224.1h0M1014.4 221.5h0M1014.5 222.2h0M1014.2 236.4h0M1014.1 225.3h0M1015.0 224.7h0M1014.9 224.1h0M1014.1 231.6h0M1014.1 231.4h0M1014.4 228.9h0M1015.3 215.6h0M1015.4 227.2h0M1015.2 229.5h0M1015.9 227.9h0M1015.0 227.9h0M1015.7 223.1h0M1015.6 222.2h0M1015.2 226.3h0M1015.1 220.2h0M1015.2 223.9h0M1016.0 222.0h0M1015.4 228.6h0M1015.5 222.8h0M1015.5 223.7h0M1015.7 229.2h0M1015.4 222.4h0M1016.9 230.8h0M1016.3 224.7h0M1016.5 226.5h0M1016.4 233.6h0M1017.6 216.2h0M1018.0 221.7h0M1017.9 224.0h0M1017.4 235.4h0M1017.5 219.9h0M1017.8 222.9h0M1017.7 217.3h0M1017.2 220.7h0M1017.2 214.4h0M1017.0 218.6h0M1017.1 238.0h0M1017.6 217.7h0M1018.0 223.6h0M1018.9 225.7h0M1018.6 217.1h0M1018.6 213.0h0M1018.4 219.5h0M1018.5 216.5h0M1018.4 221.2h0M1018.6 218.9h0M1020.0 216.6h0M1019.8 217.2h0M1019.5 219.1h0M1019.4 221.0h0M1019.9 217.4h0M1019.7 229.8h0M1019.8 218.1h0M1020.5 218.5h0M1020.5 214.6h0M1020.8 222.3h0M1020.1 216.6h0M1020.5 223.3h0M1020.3 219.3h0M1020.3 221.6h0M1020.4 221.0h0M1020.1 227.6h0M1021.9 212.9h0M1021.4 220.7h0M1021.5 222.2h0M1021.4 221.2h0M1021.8 215.1h0M1021.8 224.3h0M1021.0 213.5h0M1021.6 213.4h0M1021.7 213.2h0M1022.2 219.9h0M1022.5 214.8h0M1022.3 220.6h0M1022.3 222.5h0M1022.9 213.5h0M1023.5 221.4h0M1023.2 219.8h0M1024.4 213.7h0M1024.4 214.1h0M1024.5 209.6h0M1026.0 220.3h0M1025.2 224.4h0M1025.1 212.7h0M1025.9 216.0h0M1025.7 205.3h0M1025.2 209.7h0M1025.5 208.7h0M1025.4 221.4h0M1025.5 210.4h0M1025.2 212.5h0M1027.0 216.8h0M1026.2 216.8h0M1026.5 217.4h0M1026.2 208.5h0M1026.1 208.0h0M1026.2 212.2h0M1026.3 206.2h0M1026.7 217.4h0M1026.6 207.9h0M1027.3 203.9h0M1027.8 207.5h0M1027.2 206.4h0M1027.2 212.7h0M1027.9 212.4h0M1027.8 209.5h0M1028.4 206.0h0M1028.2 212.8h0M1028.5 218.9h0M1028.5 221.0h0M1028.2 215.8h0M1028.5 209.7h0M1028.3 214.2h0M1028.7 208.6h0M1029.3 230.4h0M1029.2 209.0h0M1029.7 206.1h0M1029.5 218.0h0M1029.0 211.3h0M1029.8 207.6h0M1029.0 210.4h0M1029.6 215.4h0M1029.2 210.2h0M1029.6 197.0h0M1029.9 212.8h0M1029.3 210.0h0M1030.6 208.0h0M1030.4 202.2h0M1030.8 206.3h0M1031.0 204.5h0M1030.5 207.9h0M1030.7 207.6h0M1030.4 202.5h0M1030.9 210.7h0M1030.2 217.8h0M1031.3 206.9h0M1031.6 193.8h0M1031.5 217.1h0M1031.8 190.5h0M1032.7 210.0h0M1032.5 207.1h0M1032.5 205.9h0M1032.7 203.0h0M1032.7 213.8h0M1032.8 195.6h0M1033.5 206.4h0M1033.3 203.2h0M1033.5 210.4h0M1033.3 208.8h0M1033.4 214.1h0M1033.7 204.6h0M1033.4 208.3h0M1034.1 202.9h0M1034.3 199.5h0M1034.1 210.6h0M1034.5 207.0h0M1034.2 208.1h0M1035.0 198.3h0M1034.6 204.1h0M1034.7 207.9h0M1034.8 213.3h0M1034.9 201.9h0M1035.6 205.6h0M1035.7 196.1h0M1035.8 207.7h0M1035.1 204.7h0M1035.1 204.9h0M1036.0 204.6h0M1037.0 197.4h0M1036.5 186.7h0M1036.8 209.6h0M1036.6 208.1h0M1036.9 202.3h0M1036.5 210.4h0M1037.4 199.4h0M1037.4 220.6h0M1037.3 205.4h0M1037.2 199.9h0M1037.3 207.9h0M1037.5 194.4h0M1038.2 205.6h0M1038.8 205.3h0M1038.0 213.8h0M1038.2 209.2h0M1038.3 202.0h0M1038.5 197.4h0M1038.6 203.2h0M1038.6 198.0h0M1039.5 199.0h0M1039.8 200.5h0M1039.8 195.2h0M1040.7 198.9h0M1040.0 190.6h0M1040.1 194.1h0M1040.4 206.7h0M1040.7 198.3h0M1040.8 200.3h0M1041.4 200.1h0M1041.4 197.4h0M1042.0 200.4h0M1041.5 201.5h0M1041.0 199.5h0M1041.1 200.8h0M1042.0 197.0h0M1041.8 175.8h0M1041.6 193.5h0M1041.2 203.8h0M1041.1 203.7h0M1042.6 200.7h0M1042.2 188.6h0M1042.9 194.2h0M1042.4 186.8h0M1042.5 201.2h0M1042.2 192.8h0M1042.6 194.8h0M1042.3 201.5h0M1042.6 203.2h0M1043.0 195.8h0M1042.8 201.7h0M1043.8 193.9h0M1043.7 195.8h0M1043.8 198.7h0M1043.9 189.6h0M1043.0 191.8h0M1043.4 194.7h0M1043.8 188.7h0M1043.2 196.4h0M1043.5 191.6h0M1043.1 194.0h0M1044.1 193.7h0M1044.7 201.1h0M1044.2 192.6h0M1044.8 200.4h0M1044.1 197.9h0M1044.2 194.9h0M1044.8 194.1h0M1045.4 207.8h0M1045.0 188.4h0M1045.9 185.6h0M1045.3 193.8h0M1047.0 190.9h0M1046.6 192.5h0M1046.1 190.1h0M1046.2 189.1h0M1046.8 194.2h0M1046.7 194.7h0M1046.8 203.8h0M1046.1 194.2h0M1047.9 190.5h0M1047.4 197.0h0M1047.5 192.7h0M1047.3 195.1h0M1047.2 189.8h0M1047.4 196.0h0M1048.9 193.7h0M1048.2 194.5h0M1048.5 192.5h0M1048.2 206.8h0M1048.8 188.1h0M1049.7 193.2h0M1049.6 177.0h0M1049.0 192.6h0M1049.7 188.7h0M1049.2 199.9h0M1049.8 182.9h0M1049.4 187.4h0M1050.4 189.8h0M1051.0 191.0h0M1050.4 188.8h0M1050.2 200.9h0M1050.2 187.0h0M1050.0 190.6h0M1050.6 179.9h0M1051.3 185.4h0M1051.7 193.2h0M1051.0 187.0h0M1052.2 212.6h0M1052.2 188.2h0M1052.9 179.2h0M1052.1 179.5h0M1052.8 182.1h0M1053.1 188.5h0M1053.3 179.1h0M1053.7 187.2h0M1053.3 189.6h0M1054.5 190.8h0M1054.4 185.1h0M1054.3 186.8h0M1054.4 186.3h0M1054.5 183.6h0M1054.2 184.6h0M1054.5 183.7h0M1054.2 181.8h0M1054.7 187.9h0M1055.4 180.2h0M1055.3 186.6h0M1055.1 177.6h0M1055.9 189.0h0M1055.5 180.3h0M1055.7 191.4h0M1056.1 183.0h0M1056.4 183.8h0M1056.6 188.0h0M1056.5 185.5h0M1056.5 173.3h0M1056.5 196.4h0M1056.7 181.6h0M1056.2 182.5h0M1057.0 179.4h0M1056.2 192.4h0M1057.7 188.0h0M1057.1 181.6h0M1058.0 181.8h0M1057.4 183.7h0M1058.8 188.9h0M1058.0 178.5h0M1058.0 183.5h0M1058.6 186.0h0M1059.1 171.9h0M1059.5 178.4h0M1059.2 177.8h0M1059.5 177.3h0M1059.4 180.6h0M1059.5 185.6h0M1059.2 181.4h0M1060.0 180.8h0M1060.5 174.8h0M1061.0 187.2h0M1060.6 184.8h0M1060.3 180.4h0M1060.2 181.5h0M1060.7 185.0h0M1061.9 175.7h0M1061.5 178.0h0M1061.4 176.4h0M1061.7 188.7h0M1061.3 178.4h0M1061.9 174.2h0M1062.5 178.0h0M1062.5 161.6h0M1062.5 173.6h0M1062.5 182.5h0M1062.5 174.5h0M1063.6 175.6h0M1063.5 173.4h0M1063.5 173.6h0M1063.8 185.8h0M1063.1 183.8h0M1064.5 172.2h0M1064.2 174.2h0M1064.9 170.5h0M1064.5 182.4h0M1064.5 177.0h0M1064.9 171.3h0M1065.1 199.0h0M1065.7 174.6h0M1065.1 177.9h0M1066.9 172.5h0M1066.7 176.3h0M1066.2 153.9h0M1066.1 169.7h0M1067.0 181.5h0M1066.3 186.3h0M1066.6 178.1h0M1066.2 175.2h0M1066.6 175.6h0M1067.6 168.5h0M1068.3 172.2h0M1068.5 177.9h0M1069.3 174.9h0M1069.8 166.9h0M1069.8 166.3h0M1069.7 160.1h0M1069.4 169.5h0M1069.7 162.5h0M1070.6 167.4h0M1070.1 172.7h0M1070.9 181.2h0M1071.5 166.8h0M1071.2 173.3h0M1071.8 163.9h0M1071.7 161.2h0M1071.3 167.7h0M1071.7 168.4h0M1071.5 170.6h0M1071.0 168.2h0M1071.6 172.0h0M1071.6 174.4h0M1072.6 167.7h0M1072.4 161.6h0M1072.1 164.5h0M1072.8 170.0h0M1072.9 167.5h0M1073.0 169.6h0M1073.5 159.9h0M1073.4 170.1h0M1073.1 173.4h0M1074.9 168.3h0M1074.5 172.6h0M1074.5 167.9h0M1074.6 162.8h0M1075.1 174.7h0M1075.1 166.4h0M1075.8 169.3h0M1075.4 163.9h0M1075.3 162.7h0M1075.4 167.0h0M1076.3 167.8h0M1076.2 148.9h0M1077.3 163.3h0M1077.0 170.2h0M1077.3 164.5h0M1077.1 184.0h0M1078.1 165.5h0M1078.6 167.7h0M1079.0 160.9h0M1079.0 166.5h0M1079.2 157.3h0M1079.8 160.5h0M1079.8 162.0h0M1079.1 159.5h0M1079.9 152.1h0M1080.4 166.9h0M1080.3 161.5h0M1081.4 158.3h0M1081.6 153.4h0M1082.0 158.7h0M1081.2 162.2h0M1081.1 164.7h0M1081.8 161.8h0M1082.7 148.7h0M1082.1 158.8h0M1082.1 165.7h0M1082.5 163.9h0M1083.3 154.0h0M1083.3 147.3h0M1083.0 153.3h0M1084.1 163.1h0M1084.6 159.9h0M1084.3 155.6h0M1085.4 153.7h0M1085.0 161.5h0M1085.4 165.2h0M1085.3 157.8h0M1086.4 151.7h0M1087.0 147.1h0M1086.6 150.1h0M1086.8 146.4h0M1086.2 157.5h0M1086.3 155.0h0M1086.6 146.2h0M1086.3 155.4h0M1087.0 146.8h0M1087.3 147.6h0M1087.4 157.2h0M1087.1 152.3h0M1088.0 152.9h0M1087.6 150.6h0M1087.6 157.4h0M1087.7 154.2h0M1088.9 150.0h0M1088.9 153.7h0M1088.7 140.7h0M1089.7 148.4h0M1089.1 153.9h0M1089.5 152.5h0M1089.8 149.6h0M1090.0 149.5h0M1089.8 146.0h0M1090.4 158.1h0M1090.4 145.9h0M1090.9 144.3h0M1091.0 146.9h0M1091.6 147.4h0M1091.4 142.6h0M1092.0 143.8h0M1091.5 156.7h0M1092.7 147.9h0M1092.6 152.2h0M1092.1 149.1h0M1093.2 144.8h0M1093.8 142.2h0M1093.0 138.5h0M1093.9 148.8h0M1093.6 147.9h0M1093.2 148.8h0M1093.9 138.3h0M1094.5 140.0h0M1094.1 146.9h0M1094.0 150.0h0M1095.5 139.8h0M1096.0 149.5h0M1097.0 147.1h0M1096.3 175.0h0M1096.1 134.1h0M1096.1 146.3h0M1097.7 148.8h0M1097.5 136.3h0M1098.0 140.3h0M1097.8 141.6h0M1097.1 142.7h0M1097.2 146.6h0M1098.4 142.7h0M1098.6 138.6h0M1099.8 138.4h0M1099.4 139.6h0M1099.8 143.4h0M1099.4 144.2h0M1100.1 146.8h0M1100.6 157.8h0M1100.8 142.6h0M1100.6 137.8h0M1101.7 135.7h0M1101.4 145.6h0M1101.8 135.2h0M1101.1 135.3h0M1101.8 167.9h0M1101.3 146.7h0M1101.2 138.4h0M1102.6 134.7h0M1102.5 145.2h0M1103.0 138.4h0M1102.8 137.9h0M1102.8 140.7h0M1102.7 129.2h0M1103.8 139.0h0M1103.5 146.7h0M1103.2 131.2h0M1103.2 138.8h0M1104.0 115.6h0M1104.5 133.0h0M1104.8 138.0h0M1105.5 133.7h0M1105.5 129.7h0M1105.2 139.7h0M1105.1 121.2h0M1105.1 140.9h0M1106.5 138.0h0M1106.1 164.9h0M1106.6 135.1h0M1106.2 132.6h0M1106.7 128.1h0M1106.2 143.8h0M1107.8 131.2h0M1107.4 136.1h0M1108.7 136.2h0M1108.5 133.8h0M1108.2 134.1h0M1108.0 123.8h0M1109.0 125.5h0M1109.7 126.4h0M1109.8 124.4h0M1111.0 133.3h0M1110.8 125.5h0M1111.1 127.4h0M1112.3 137.8h0M1112.6 128.1h0M1112.4 110.6h0M1112.9 110.2h0M1112.9 135.6h0M1113.6 134.4h0M1113.6 124.8h0M1113.4 115.2h0M1114.0 125.0h0M1114.0 122.5h0M1113.0 124.5h0M1114.8 126.0h0M1114.5 132.3h0M1114.1 128.1h0M1115.0 120.9h0M1114.6 124.1h0M1115.1 106.0h0M1116.2 125.5h0M1116.2 128.6h0M1116.2 120.6h0M1116.1 117.4h0M1116.8 121.9h0M1116.8 119.8h0M1118.1 125.4h0M1118.1 122.0h0M1118.8 131.2h0M1119.2 123.2h0M1119.2 118.9h0M1119.1 116.1h0M1119.3 135.8h0M1120.9 140.1h0M1120.4 117.9h0M1120.7 110.0h0M1120.2 115.6h0M1121.4 118.7h0M1121.0 117.9h0M1122.1 113.6h0M1122.7 125.0h0M1123.7 115.4h0M1123.2 108.3h0M1124.3 113.5h0M1124.6 120.2h0M1124.4 147.8h0M1124.5 108.7h0M1124.2 109.6h0M1124.6 123.8h0M1125.8 113.2h0M1125.5 116.7h0M1127.0 115.0h0M1126.5 113.4h0M1126.8 110.1h0M1127.8 126.0h0M1127.8 115.9h0M1127.9 108.3h0M1127.8 120.1h0M1127.1 106.5h0M1127.3 106.1h0M1128.1 112.8h0M1128.9 124.7h0M1128.3 104.5h0M1129.9 102.2h0M1129.8 110.4h0M1130.0 105.8h0M1129.7 109.1h0M1130.6 105.1h0M1130.6 121.2h0M1130.5 109.4h0M1130.2 114.3h0M1131.7 108.3h0M1131.9 94.9h0M1131.1 112.2h0M1132.8 105.9h0M1132.7 110.4h0M1132.5 106.7h0M1132.9 108.8h0M1133.6 106.0h0M1133.5 108.9h0M1133.7 111.2h0M1134.4 122.7h0M1134.2 104.8h0M1134.5 109.6h0M1134.9 112.8h0M1135.7 103.2h0M1135.8 103.8h0M1136.2 105.8h0M1137.8 94.7h0M1137.1 100.1h0M1137.6 102.2h0M1137.7 90.9h0M1137.9 108.6h0M1137.6 102.3h0M1138.3 104.9h0M1139.0 97.4h0M1139.9 92.0h0M1139.9 105.1h0M1139.7 103.1h0M1139.5 105.4h0M1140.4 106.6h0M1140.2 99.9h0M1140.9 88.1h0M1140.5 87.9h0M1140.7 100.7h0M1142.2 95.1h0M1142.8 100.8h0M1142.6 96.4h0M1142.2 89.2h0M1143.0 105.0h0M1143.4 98.6h0M1144.1 100.0h0M1145.1 91.7h0M1145.9 96.8h0M1145.0 91.8h0M1146.3 90.4h0M1146.0 99.2h0M1147.8 101.0h0M1147.3 89.8h0M1147.8 95.0h0M1148.7 83.0h0M1148.3 82.7h0M1148.9 100.8h0M1149.9 101.1h0M1149.7 103.4h0M1149.6 87.6h0M1151.1 86.6h0M1151.8 90.7h0M1151.7 92.9h0M1152.1 89.6h0M1152.9 77.9h0M1152.6 92.9h0M1153.5 86.3h0M1153.2 86.5h0M1153.5 83.7h0M1154.1 80.0h0M1155.3 83.8h0M1155.6 73.9h0M1155.2 73.5h0M1156.4 77.8h0M1157.9 103.6h0M750.4 486.3h0M752.6 484.4h0M749.2 487.0h0M752.5 483.6h0M754.4 482.3h0M748.3 492.1h0M746.8 492.2h0M759.9 479.7h0M747.9 489.7h0M756.4 477.3h0M757.3 479.1h0M758.8 479.2h0M756.7 475.9h0M746.7 488.5h0M754.2 484.3h0M756.1 479.8h0M748.9 485.8h0M753.2 481.7h0M751.3 487.0h0M754.1 482.3h0M752.4 486.0h0M755.5 484.4h0M756.2 479.5h0M747.7 493.6h0M749.5 487.8h0M753.2 481.5h0M757.6 478.0h0M759.5 477.5h0M756.8 479.3h0M750.0 486.5h0M756.2 477.8h0M748.7 487.0h0M759.8 475.4h0M751.7 486.6h0M757.8 479.3h0M752.7 485.2h0M749.7 484.8h0M746.8 488.1h0M751.0 485.5h0M748.9 485.9h0M749.1 487.4h0M753.5 483.5h0M758.0 477.4h0M751.3 484.7h0M758.1 473.5h0M756.4 483.0h0M752.4 482.1h0M759.9 478.7h0M751.5 483.4h0M752.7 486.1h0M759.0 481.3h0M748.2 485.0h0M758.4 478.5h0M749.8 483.2h0M754.9 483.3h0M791.9 439.4h0M772.6 457.0h0M791.8 442.9h0M779.3 454.4h0M790.5 441.9h0M782.4 451.3h0M793.9 439.0h0M785.5 446.4h0M785.1 448.1h0M772.0 458.7h0M780.8 450.1h0M782.1 448.8h0M785.4 445.9h0M779.0 451.7h0M775.7 461.0h0M783.7 447.0h0M783.4 450.1h0M785.3 443.2h0M787.6 445.5h0M786.4 445.0h0M784.5 449.8h0M792.9 441.0h0M777.8 453.8h0M774.2 457.1h0M783.1 446.4h0M779.7 450.9h0M792.6 437.3h0M784.9 443.9h0M789.5 444.8h0M776.6 452.9h0M791.2 442.0h0M790.1 441.3h0M792.8 439.3h0M771.4 459.0h0M774.3 456.3h0M780.6 450.4h0M781.4 451.2h0M773.0 461.8h0M782.2 449.5h0M783.3 448.7h0M784.1 447.7h0M783.3 447.7h0M772.2 456.6h0M786.0 444.1h0M782.9 448.2h0M785.5 447.2h0M785.9 447.9h0M771.4 458.1h0M782.8 447.9h0M771.3 460.5h0M939.3 321.3h0M962.6 299.0h0M981.3 287.5h0M913.2 341.8h0M911.3 346.5h0M927.6 327.4h0M944.0 308.5h0M1051.0 166.3h0M1041.3 180.3h0M1030.0 192.2h0M1013.3 201.3h0M1097.3 189.2h0M1081.5 182.9h0M1068.2 201.3h0M1061.2 209.0h0M1056.5 200.4h0M1042.5 221.8h0M1031.3 226.5h0M1021.5 241.2h0M1015.7 250.3h0M1022.2 251.5h0M1009.4 248.0h0M1077.5 142.5h0M1065.4 154.6h0" stroke="#000000" stroke-width="3.8" stroke-linecap="round" fill="none"/>
<path d="M757.4 483.3h0M757.4 480.9h0M757.4 481.9h0M757.6 481.7h0M758.6 481.0h0M758.0 477.0h0M758.2 480.0h0M758.7 478.9h0M758.7 481.0h0M758.1 480.2h0M759.5 481.0h0M760.7 479.3h0M760.4 479.2h0M760.9 478.5h0M760.5 475.6h0M760.3 480.3h0M760.7 476.9h0M761.2 477.5h0M761.0 478.0h0M761.1 474.1h0M761.6 478.0h0M761.4 481.2h0M762.2 474.8h0M763.7 474.2h0M763.4 479.1h0M763.0 475.0h0M763.1 478.2h0M763.4 476.1h0M763.5 473.2h0M764.7 476.6h0M764.5 475.2h0M764.3 472.3h0M764.2 475.2h0M766.0 474.2h0M765.2 472.3h0M765.0 472.2h0M765.4 471.7h0M765.7 468.7h0M765.5 477.3h0M765.4 477.3h0M765.3 475.2h0M766.4 476.4h0M766.2 475.0h0M766.2 475.9h0M766.1 471.8h0M766.8 470.4h0M766.3 474.3h0M767.2 467.3h0M767.7 467.9h0M767.2 473.7h0M767.4 472.7h0M768.5 471.3h0M768.9 469.1h0M769.9 468.0h0M769.7 469.4h0M769.3 469.5h0M769.6 469.2h0M770.0 467.9h0M769.3 471.4h0M769.1 470.0h0M770.7 470.6h0M770.8 468.4h0M771.5 468.4h0M771.8 467.2h0M771.0 472.3h0M771.5 471.0h0M771.7 463.7h0M771.6 466.9h0M772.1 469.0h0M772.8 465.3h0M773.5 460.7h0M773.3 463.1h0M773.5 468.2h0M775.0 466.0h0M774.2 469.4h0M775.1 466.6h0M775.4 461.5h0M775.8 459.8h0M776.7 462.3h0M776.2 466.6h0M777.5 467.6h0M778.0 460.8h0M777.7 461.7h0M777.0 462.6h0M777.7 461.6h0M777.5 457.1h0M778.2 461.8h0M778.3 460.3h0M779.6 458.1h0M779.1 456.3h0M779.5 460.0h0M779.8 459.9h0M780.5 457.2h0M781.7 457.6h0M781.2 460.7h0M781.6 457.8h0M781.8 457.9h0M782.9 458.6h0M782.4 460.7h0M782.5 458.9h0M783.9 456.9h0M783.5 453.8h0M783.6 452.6h0M783.7 462.8h0M783.1 455.8h0M783.0 456.7h0M784.4 454.6h0M784.5 453.2h0M784.5 457.1h0M785.3 461.2h0M786.3 452.1h0M788.0 451.8h0M787.9 449.7h0M787.2 450.9h0M788.1 452.1h0M788.1 449.5h0M788.1 451.9h0M788.1 450.2h0M788.8 452.8h0M789.8 448.8h0M789.5 449.0h0M789.8 451.4h0M789.6 449.6h0M789.8 444.8h0M790.6 450.0h0M792.8 450.0h0M792.5 442.7h0M792.5 441.0h0M792.2 446.5h0M792.7 445.3h0M794.0 443.3h0M793.8 446.3h0M794.9 442.0h0M794.6 445.4h0M794.0 451.8h0M794.2 446.1h0M794.7 443.8h0M794.1 440.0h0M794.5 445.2h0M795.3 446.0h0M795.6 443.5h0M795.1 444.6h0M796.5 444.4h0M796.0 439.9h0M796.9 441.3h0M797.9 443.7h0M797.1 441.9h0M797.3 439.5h0M797.1 446.4h0M798.5 445.5h0M798.3 441.8h0M798.3 442.6h0M799.7 442.6h0M799.5 441.3h0M800.0 443.4h0M799.8 434.3h0M800.8 437.8h0M800.6 437.1h0M800.9 440.3h0M801.2 436.7h0M801.4 445.5h0M802.8 438.7h0M802.3 436.1h0M802.0 439.2h0M802.1 437.4h0M802.1 443.3h0M803.4 436.8h0M803.0 435.4h0M803.1 434.7h0M803.8 435.9h0M803.5 437.9h0M804.8 430.9h0M804.8 437.3h0M805.7 435.5h0M805.4 434.6h0M805.4 433.5h0M805.1 432.9h0M806.1 435.6h0M806.3 431.5h0M806.2 431.8h0M807.6 435.5h0M807.5 430.5h0M808.9 433.0h0M808.9 426.6h0M808.3 426.3h0M808.9 434.2h0M809.7 435.8h0M809.7 432.2h0M809.2 431.2h0M809.0 430.7h0M809.7 430.9h0M809.5 426.1h0M809.2 429.4h0M810.6 427.2h0M810.4 434.4h0M810.6 427.6h0M811.4 429.1h0M811.3 427.9h0M811.1 428.5h0M812.8 423.2h0M812.4 430.9h0M812.6 425.2h0M812.5 432.4h0M812.2 426.1h0M812.2 427.3h0M812.9 422.4h0M813.6 426.1h0M813.5 424.7h0M813.4 428.2h0M813.2 425.6h0M814.4 424.8h0M814.5 425.4h0M814.5 425.8h0M816.0 422.8h0M816.1 426.1h0M816.5 422.9h0M817.8 418.4h0M817.2 419.9h0M818.1 419.9h0M818.4 425.9h0M818.4 424.4h0M819.9 423.7h0M819.3 421.8h0M819.3 420.8h0M820.5 417.2h0M820.6 420.2h0M820.1 420.9h0M820.6 416.1h0M820.4 420.1h0M820.1 424.4h0M821.6 417.0h0M821.0 421.4h0M821.5 417.8h0M821.2 415.4h0M822.3 415.5h0M822.7 418.7h0M822.7 417.4h0M822.7 419.2h0M823.5 412.8h0M823.3 414.1h0M823.9 415.2h0M825.0 412.6h0M824.6 411.6h0M824.2 416.4h0M824.0 413.7h0M825.4 409.6h0M825.9 414.3h0M825.3 410.7h0M825.2 412.7h0M825.0 417.2h0M825.2 414.5h0M825.7 417.6h0M825.5 412.1h0M825.2 416.7h0M825.8 413.9h0M825.8 414.2h0M826.9 407.1h0M826.5 411.0h0M827.8 411.2h0M827.7 406.7h0M827.8 413.7h0M827.4 409.7h0M828.7 409.3h0M828.5 410.0h0M829.4 407.4h0M829.6 411.9h0M829.5 405.0h0M830.1 407.7h0M830.2 407.4h0M831.5 406.5h0M831.8 406.7h0M831.7 399.1h0M832.4 406.8h0M832.7 409.0h0M832.7 407.6h0M832.2 415.2h0M832.3 405.5h0M832.0 408.5h0M833.9 405.7h0M834.0 407.2h0M834.4 403.0h0M834.8 398.6h0M834.5 407.2h0M835.6 400.7h0M835.8 401.5h0M835.5 401.7h0M835.1 403.5h0M835.6 401.0h0M835.3 400.3h0M835.7 404.6h0M836.9 409.7h0M836.1 401.7h0M836.7 404.0h0M836.0 399.2h0M836.1 404.5h0M836.6 401.8h0M837.0 409.2h0M837.1 401.1h0M839.0 399.7h0M838.5 396.8h0M839.0 399.0h0M838.9 398.7h0M838.6 399.5h0M838.6 406.0h0M838.2 398.2h0M839.5 399.0h0M839.5 398.9h0M840.3 397.3h0M840.4 400.2h0M840.1 399.6h0M841.0 398.0h0M841.6 396.3h0M841.8 393.7h0M842.0 396.2h0M841.8 395.8h0M841.5 399.9h0M842.3 391.4h0M842.7 392.6h0M842.3 394.4h0M842.4 400.1h0M842.9 394.4h0M843.5 399.0h0M844.9 395.2h0M844.9 396.1h0M844.7 397.7h0M844.9 393.5h0M844.6 389.5h0M844.0 396.9h0M844.3 392.0h0M845.3 393.9h0M845.3 394.6h0M845.3 393.0h0M845.8 391.9h0M846.9 394.4h0M846.8 396.0h0M846.7 394.4h0M847.7 399.9h0M847.5 400.6h0M847.8 393.7h0M847.1 391.7h0M847.6 392.5h0M848.0 392.8h0M848.0 393.7h0M847.7 394.2h0M847.1 392.7h0M847.6 391.9h0M847.4 392.8h0M847.2 391.8h0M847.2 390.0h0M848.5 394.6h0M848.8 395.4h0M848.1 387.4h0M849.6 393.0h0M849.3 392.1h0M849.5 388.6h0M849.3 390.9h0M849.8 386.4h0M849.9 389.5h0M850.2 386.9h0M850.3 388.4h0M851.1 386.6h0M851.7 388.9h0M851.4 389.6h0M852.0 386.6h0M852.0 390.2h0M852.6 383.0h0M852.1 387.5h0M853.3 386.9h0M853.7 380.9h0M853.0 387.9h0M853.2 388.1h0M854.6 383.0h0M854.1 385.7h0M854.4 384.8h0M854.3 384.4h0M855.4 381.8h0M856.7 383.6h0M857.5 378.2h0M857.3 384.1h0M857.1 381.5h0M857.7 382.5h0M857.7 377.5h0M857.9 383.5h0M858.2 373.7h0M858.7 382.9h0M858.2 379.7h0M858.3 379.9h0M858.9 378.4h0M858.5 379.1h0M858.8 384.1h0M859.0 384.1h0M859.5 380.1h0M859.4 379.2h0M860.6 381.3h0M860.7 377.5h0M861.0 374.1h0M860.7 378.0h0M860.4 376.9h0M860.1 381.0h0M861.0 371.4h0M861.9 377.2h0M861.3 377.3h0M861.9 376.7h0M862.0 377.9h0M862.6 376.4h0M862.8 375.6h0M862.9 379.2h0M862.5 374.5h0M863.0 374.5h0M862.4 377.7h0M862.4 380.1h0M862.3 377.8h0M865.0 377.1h0M864.0 369.6h0M864.9 370.6h0M865.0 373.5h0M865.1 374.8h0M865.5 370.6h0M865.2 371.9h0M866.9 366.7h0M866.8 377.7h0M866.3 371.0h0M866.0 377.1h0M867.0 366.2h0M867.7 377.0h0M867.8 374.5h0M867.6 374.2h0M867.5 372.7h0M868.7 371.3h0M868.3 368.0h0M869.5 370.0h0M869.9 368.8h0M869.8 368.4h0M869.0 374.4h0M870.3 365.3h0M870.9 371.7h0M870.1 367.2h0M870.7 366.6h0M871.6 370.8h0M871.3 364.6h0M871.2 366.2h0M871.3 366.6h0M872.0 366.4h0M874.0 364.3h0M873.5 363.7h0M874.5 361.2h0M874.2 371.0h0M874.5 359.0h0M874.6 363.6h0M874.6 363.1h0M875.1 365.4h0M875.5 364.6h0M875.3 362.1h0M876.7 364.9h0M876.8 365.8h0M876.6 360.3h0M876.4 361.9h0M877.9 362.3h0M877.6 356.2h0M877.5 360.7h0M878.0 359.6h0M878.4 360.7h0M878.1 360.6h0M878.1 363.0h0M879.7 355.1h0M879.6 363.7h0M880.2 360.5h0M880.9 363.6h0M880.7 359.2h0M880.4 357.9h0M880.3 358.5h0M880.9 356.2h0M880.5 360.2h0M880.3 357.3h0M882.1 359.0h0M882.1 359.4h0M882.0 357.2h0M882.2 354.2h0M882.5 362.4h0M883.2 358.3h0M883.4 358.1h0M883.5 354.4h0M883.4 356.9h0M884.0 354.2h0M884.0 351.6h0M883.4 354.7h0M884.2 354.6h0M884.8 356.5h0M884.1 359.1h0M885.8 354.3h0M886.4 348.0h0M886.6 355.7h0M886.9 352.4h0M887.4 354.5h0M887.1 350.7h0M887.5 348.6h0M887.2 355.5h0M887.3 351.8h0M887.2 352.6h0M888.4 352.1h0M888.8 353.4h0M888.1 350.1h0M888.0 350.2h0M889.5 345.2h0M889.5 351.6h0M889.0 350.0h0M889.4 351.9h0M889.5 351.2h0M889.5 343.8h0M890.6 345.1h0M890.9 349.0h0M890.6 349.2h0M890.8 347.9h0M891.2 343.5h0M891.9 344.1h0M891.5 347.7h0M891.7 350.9h0M891.9 348.2h0M891.6 342.6h0M891.5 350.2h0M891.4 348.5h0M892.7 352.0h0M892.2 345.5h0M892.3 346.5h0M892.7 341.2h0M893.4 351.5h0M893.3 349.0h0M893.0 349.3h0M894.2 342.7h0M894.7 344.5h0M894.5 348.5h0M895.5 342.1h0M895.5 352.6h0M895.7 339.7h0M896.6 339.9h0M896.4 347.4h0M897.8 344.0h0M898.2 345.7h0M898.1 340.6h0M899.5 338.4h0M899.8 342.1h0M899.9 334.8h0M900.2 340.1h0M900.3 337.0h0M900.2 337.7h0M900.6 337.7h0M900.5 337.5h0M901.1 338.7h0M902.5 339.0h0M902.8 339.7h0M902.4 337.7h0M903.1 334.1h0M904.9 329.3h0M904.2 334.3h0M905.5 334.3h0M905.4 334.5h0M905.4 333.9h0M905.3 337.6h0M905.5 336.8h0M906.4 331.8h0M907.5 328.8h0M907.0 328.2h0M907.6 329.8h0M907.2 333.7h0M908.1 327.7h0M908.0 330.0h0M909.0 330.9h0M908.9 324.7h0M908.5 330.8h0M909.6 325.7h0M909.2 330.8h0M909.2 329.9h0M909.7 329.2h0M910.2 328.7h0M910.3 328.9h0M910.0 328.2h0M910.4 324.9h0M911.2 327.5h0M911.2 330.2h0M911.7 333.5h0M912.8 324.0h0M912.5 321.5h0M914.0 328.5h0M913.1 325.0h0M913.1 320.4h0M913.5 327.2h0M913.5 326.8h0M913.4 322.9h0M914.0 327.1h0M914.5 328.1h0M914.3 325.5h0M914.9 333.8h0M914.4 327.9h0M915.5 321.5h0M915.6 324.8h0M916.2 324.1h0M916.9 322.6h0M917.0 323.7h0M916.5 325.0h0M916.3 323.8h0M917.4 326.1h0M917.0 321.4h0M918.8 321.0h0M918.9 318.7h0M918.3 322.4h0M918.2 316.2h0M918.9 320.6h0M918.7 322.2h0M918.9 317.4h0M918.7 323.6h0M918.3 316.7h0M919.1 313.8h0M919.2 323.5h0M919.9 323.7h0M920.0 318.3h0M920.0 317.1h0M920.8 316.6h0M920.9 321.5h0M920.5 322.8h0M921.0 324.8h0M921.2 317.2h0M921.7 320.2h0M921.7 324.3h0M921.9 316.6h0M922.0 315.2h0M923.1 315.5h0M923.4 317.7h0M924.9 312.5h0M924.2 322.6h0M924.1 314.8h0M924.3 313.4h0M924.4 315.9h0M924.3 317.6h0M925.5 315.6h0M925.2 310.1h0M926.0 315.7h0M926.1 320.2h0M927.0 312.2h0M927.5 316.6h0M927.0 313.1h0M927.5 314.2h0M927.4 312.4h0M927.3 316.1h0M928.1 309.6h0M928.3 309.4h0M929.0 309.7h0M929.9 308.6h0M929.8 308.7h0M930.6 310.2h0M930.6 309.1h0M931.0 306.8h0M930.3 310.3h0M931.4 311.9h0M931.5 315.6h0M931.7 306.8h0M931.1 304.6h0M932.1 306.9h0M932.0 307.7h0M932.3 309.6h0M932.0 308.2h0M932.0 305.1h0M933.3 300.4h0M933.9 303.6h0M933.3 305.6h0M933.6 301.5h0M934.2 301.1h0M934.5 311.9h0M934.1 307.3h0M934.4 310.8h0M935.3 311.2h0M935.5 303.5h0M936.7 303.3h0M936.7 303.5h0M936.4 301.0h0M936.1 303.4h0M936.6 302.0h0M936.6 301.8h0M936.9 305.0h0M937.6 295.2h0M937.3 299.3h0M938.7 300.9h0M938.1 299.9h0M939.9 301.3h0M939.3 299.1h0M939.4 298.7h0M939.6 301.9h0M940.0 301.9h0M939.8 290.9h0M939.8 302.0h0M940.8 294.5h0M940.9 300.8h0M941.6 299.3h0M941.6 295.7h0M941.6 301.7h0M941.6 292.0h0M943.0 294.1h0M942.1 297.3h0M942.1 291.4h0M942.5 298.7h0M942.2 292.6h0M942.1 296.9h0M943.9 293.3h0M943.6 296.1h0M944.1 297.0h0M944.7 295.7h0M945.9 290.3h0M945.3 294.0h0M946.5 293.9h0M946.6 294.7h0M946.4 298.7h0M947.8 287.7h0M947.8 290.9h0M947.4 296.1h0M947.5 292.7h0M948.0 290.7h0M948.5 292.6h0M948.8 291.2h0M948.1 291.7h0M948.3 289.8h0M948.2 291.1h0M949.9 286.9h0M949.5 287.0h0M949.3 289.2h0M949.5 289.0h0M949.5 290.5h0M949.5 287.0h0M949.8 284.2h0M950.5 287.3h0M950.1 287.1h0M950.4 285.3h0M950.5 290.7h0M951.4 288.0h0M951.9 284.4h0M952.9 285.5h0M953.0 282.5h0M952.9 285.8h0M952.4 281.1h0M952.2 284.5h0M954.8 285.4h0M954.4 288.1h0M955.5 280.1h0M956.8 283.3h0M956.5 283.7h0M956.6 285.1h0M956.5 287.0h0M956.2 279.9h0M956.7 283.8h0M956.1 282.9h0M957.9 284.0h0M957.5 284.4h0M957.6 281.6h0M957.0 283.0h0M957.4 278.4h0M957.8 279.1h0M958.0 279.5h0M959.2 274.7h0M960.0 278.2h0M960.7 280.5h0M960.4 275.8h0M960.5 273.3h0M961.5 278.2h0M961.5 273.1h0M961.7 275.4h0M962.4 276.8h0M962.8 280.9h0M963.0 277.9h0M963.3 278.1h0M963.3 272.8h0M963.9 277.7h0M963.4 272.9h0M963.3 272.3h0M963.6 276.1h0M964.6 275.6h0M964.4 277.0h0M965.7 273.0h0M966.4 273.4h0M966.6 272.8h0M967.5 272.7h0M968.0 271.3h0M967.5 266.5h0M967.4 271.8h0M967.7 273.5h0M967.6 274.0h0M968.7 269.0h0M968.5 271.8h0M968.4 270.2h0M968.9 270.1h0M969.1 272.1h0M970.2 274.7h0M970.6 269.0h0M970.8 274.8h0M971.1 265.5h0M971.2 271.8h0M971.8 269.0h0M971.3 268.6h0M971.3 270.8h0M971.8 264.5h0M972.9 268.7h0M972.2 266.8h0M972.4 265.8h0M973.9 261.0h0M974.7 261.9h0M976.0 258.8h0M975.8 261.0h0M975.1 269.9h0M975.5 262.3h0M975.9 264.4h0M975.2 263.4h0M975.3 263.7h0M976.3 259.3h0M976.4 268.1h0M976.9 261.1h0M976.6 263.2h0M977.2 266.0h0M978.5 261.7h0M978.8 259.6h0M978.3 261.2h0M978.2 261.1h0M980.6 260.5h0M980.7 257.7h0M980.2 259.5h0M980.8 261.9h0M981.8 252.2h0M981.1 262.5h0M981.1 254.6h0M981.2 260.3h0M981.2 260.7h0M982.4 255.3h0M982.6 259.4h0M983.1 260.3h0M983.2 258.3h0M983.1 253.1h0M985.0 259.1h0M984.9 249.2h0M985.6 250.7h0M985.7 250.6h0M985.7 252.1h0M986.0 256.0h0M986.4 254.1h0M986.7 251.0h0M987.4 249.2h0M987.6 249.3h0M987.6 251.6h0M987.8 252.7h0M987.6 243.8h0M987.2 255.6h0M988.2 250.9h0M988.8 254.0h0M989.4 246.0h0M989.4 251.3h0M990.8 246.4h0M993.4 241.0h0M993.7 253.5h0M993.5 249.1h0M994.6 251.3h0M994.5 249.4h0M994.1 249.8h0M994.6 247.6h0M995.8 239.6h0M996.9 242.9h0M996.1 242.1h0M996.8 237.7h0M997.4 241.4h0M997.7 242.2h0M998.0 237.6h0M1000.6 237.7h0M1000.3 242.2h0M1001.6 244.6h0M1001.1 240.7h0M1003.7 235.7h0M1003.5 238.4h0M1003.0 234.5h0M1004.3 229.6h0M1005.5 231.0h0M1005.9 241.4h0M1006.3 234.4h0M1007.1 235.4h0M1007.9 228.6h0M1008.0 229.6h0M1008.6 230.8h0M1008.8 230.8h0M1009.8 230.8h0M1009.6 233.5h0M1009.7 229.6h0M1010.5 231.7h0M1010.2 230.2h0M1010.5 225.1h0M1011.8 228.2h0M1013.3 223.4h0M1013.0 225.3h0M1014.1 227.6h0M1014.0 222.9h0M1015.1 225.2h0M1015.4 222.3h0M1016.3 223.0h0M1020.0 215.6h0M1019.3 218.0h0M1020.4 218.9h0M1020.6 220.8h0M1022.2 210.2h0M1024.9 214.6h0M1025.9 212.6h0M1025.2 213.6h0M1027.8 212.2h0M1029.6 213.5h0M1029.4 211.0h0M1029.1 213.0h0M1029.6 206.2h0M1029.1 202.8h0M1029.8 211.3h0M1031.0 207.7h0M1033.6 202.9h0M1035.1 207.0h0M1035.4 205.7h0M1035.7 205.7h0M1036.8 197.6h0M1037.4 199.8h0M1037.3 204.6h0M1038.7 200.2h0M1038.2 200.8h0M1038.3 200.8h0M1039.7 205.6h0M1039.1 200.3h0M1040.4 198.0h0M1042.2 195.2h0M1043.2 195.4h0M1044.3 196.6h0M1045.2 195.1h0M1047.4 189.0h0M1047.2 182.7h0M1048.7 193.0h0M1050.9 184.7h0M1050.2 185.1h0M1051.2 188.4h0M1052.7 196.7h0M1054.7 182.7h0M1055.0 185.8h0M1056.4 184.9h0M1058.0 179.6h0M1058.6 183.6h0M1059.0 183.6h0M1064.0 172.0h0M1065.0 170.9h0M1069.3 166.2h0M1071.0 166.5h0M1074.3 164.4h0M1079.9 157.0h0M1081.6 153.5h0M1083.9 149.6h0M741.8 491.0h0M895.2 363.3h0M1070.5 152.3h0M1092.0 171.0h0M1010.3 241.0h0M1001.0 256.0h0M994.7 264.3h0M773.5 455.0h0M777.0 454.5h0M767.7 460.3h0M1122.4 97.3h0M1146.3 115.3h0M1125.3 126.7h0M1129.3 130.4h0M1127.3 144.3h0M1133.3 116.0h0M1125.3 113.3h0M1128.0 112.0h0M1144.0 97.3h0M1148.0 89.3h0M1152.0 92.7h0M1108.7 125.3h0M1115.3 126.0h0M1102.0 134.7h0M1106.7 134.0h0M1110.0 133.3h0M1097.3 138.0h0M1096.0 142.7h0M1101.3 143.3h0M1090.0 155.3h0M1080.0 158.0h0" stroke="#ff8c00" stroke-width="6.6" stroke-linecap="round" fill="none"/>
<path d="M720.8 518.75L1153.8 85.75" stroke="#808080" stroke-width="0.95" stroke-dasharray="2.4 1.3" fill="none"/>
</g>
<rect x="721.40" y="86.40" width="433" height="433" fill="none" stroke="#cccccc" stroke-width="2.8"/>
<rect x="733.00" y="98.0" width="183" height="79.8" rx="5" ry="5" fill="#ffffff" fill-opacity="0.8" stroke="#cccccc" stroke-opacity="0.88" stroke-width="2"/>
<circle cx="767.40" cy="120.4" r="1.9" fill="#000"/>
<circle cx="767.40" cy="156.4" r="3.3" fill="#ff8c00"/>
<text transform="translate(0 126.60) scale(1.09 1)" x="746.09 754.31 762.84 776.97 782.85 797.21 803.09 817.17" font-size="25.41">training</text>
<text transform="translate(0 162.60) scale(1.09 1)" x="746.09 753.74 767.07 780.03" font-size="25.41">test</text>
<g font-family="Liberation Sans, sans-serif" fill="#262626">
<text transform="translate(0 34.00) scale(1.09 1)" x="327.84 345.58 361.50 377.83 387.91 404.35 419.19 427.27 443.77 449.90 464.77 474.20 484.60 491.36 507.52 524.65 534.00 540.47 556.34 572.53 580.75 590.55 607.70 617.04 623.79 640.23 654.80 664.25 680.47 696.68 712.90 721.00 727.47 745.26 761.58" font-size="29.17">Energy distribution (gtinv-195, Sb)</text>
<text transform="translate(0 553.80) scale(1.09 1)" x="104.74 115.91" font-size="16.04"><tspan font-size="18.13" dy="1.1">−</tspan><tspan dy="-1.1">3</tspan></text>
<text transform="translate(0 553.80) scale(1.09 1)" x="154.40 165.56" font-size="16.04"><tspan font-size="18.13" dy="1.1">−</tspan><tspan dy="-1.1">2</tspan></text>
<text transform="translate(0 553.80) scale(1.09 1)" x="204.05 215.22" font-size="16.04"><tspan font-size="18.13" dy="1.1">−</tspan><tspan dy="-1.1">1</tspan></text>
<text transform="translate(0 553.80) scale(1.09 1)" x="259.00" font-size="16.04">0</text>
<text transform="translate(0 553.80) scale(1.09 1)" x="308.66" font-size="16.04">1</text>
<text transform="translate(0 553.80) scale(1.09 1)" x="358.31" font-size="16.04">2</text>
<text transform="translate(0 553.80) scale(1.09 1)" x="407.97" font-size="16.04">3</text>
<text transform="translate(0 553.80) scale(1.09 1)" x="457.63" font-size="16.04">4</text>
<text transform="translate(0 553.80) scale(1.09 1)" x="507.28" font-size="16.04">5</text>
<text transform="translate(0 524.52) scale(1.09 1)" x="72.48 83.65" font-size="16.04"><tspan font-size="18.13" dy="1.1">−</tspan><tspan dy="-1.1">3</tspan></text>
<text transform="translate(0 470.39) scale(1.09 1)" x="72.48 83.65" font-size="16.04"><tspan font-size="18.13" dy="1.1">−</tspan><tspan dy="-1.1">2</tspan></text>
<text transform="translate(0 416.27) scale(1.09 1)" x="72.48 83.65" font-size="16.04"><tspan font-size="18.13" dy="1.1">−</tspan><tspan dy="-1.1">1</tspan></text>
<text transform="translate(0 362.14) scale(1.09 1)" x="83.65" font-size="16.04">0</text>
<text transform="translate(0 308.02) scale(1.09 1)" x="83.65" font-size="16.04">1</text>
<text transform="translate(0 253.89) scale(1.09 1)" x="83.65" font-size="16.04">2</text>
<text transform="translate(0 199.77) scale(1.09 1)" x="83.65" font-size="16.04">3</text>
<text transform="translate(0 145.64) scale(1.09 1)" x="83.65" font-size="16.04">4</text>
<text transform="translate(0 91.52) scale(1.09 1)" x="83.65" font-size="16.04">5</text>
<text transform="translate(0 553.80) scale(1.09 1)" x="700.99 712.16 721.08 725.53" font-size="16.04"><tspan font-size="18.13" dy="1.1">−</tspan><tspan dy="-1.1">2.6</tspan></text>
<text transform="translate(0 553.80) scale(1.09 1)" x="773.24 784.40 793.32 797.78" font-size="16.04"><tspan font-size="18.13" dy="1.1">−</tspan><tspan dy="-1.1">2.4</tspan></text>
<text transform="translate(0 553.80) scale(1.09 1)" x="845.49 856.65 865.57 870.03" font-size="16.04"><tspan font-size="18.13" dy="1.1">−</tspan><tspan dy="-1.1">2.2</tspan></text>
<text transform="translate(0 553.80) scale(1.09 1)" x="917.73 928.90 937.82 942.27" font-size="16.04"><tspan font-size="18.13" dy="1.1">−</tspan><tspan dy="-1.1">2.0</tspan></text>
<text transform="translate(0 553.80) scale(1.09 1)" x="989.98 1001.15 1010.07 1014.52" font-size="16.04"><tspan font-size="18.13" dy="1.1">−</tspan><tspan dy="-1.1">1.8</tspan></text>
<text transform="translate(0 462.77) scale(1.09 1)" x="605.90 617.06 625.98 630.44" font-size="16.04"><tspan font-size="18.13" dy="1.1">−</tspan><tspan dy="-1.1">2.6</tspan></text>
<text transform="translate(0 384.02) scale(1.09 1)" x="605.90 617.06 625.98 630.44" font-size="16.04"><tspan font-size="18.13" dy="1.1">−</tspan><tspan dy="-1.1">2.4</tspan></text>
<text transform="translate(0 305.27) scale(1.09 1)" x="605.90 617.06 625.98 630.44" font-size="16.04"><tspan font-size="18.13" dy="1.1">−</tspan><tspan dy="-1.1">2.2</tspan></text>
<text transform="translate(0 226.52) scale(1.09 1)" x="605.90 617.06 625.98 630.44" font-size="16.04"><tspan font-size="18.13" dy="1.1">−</tspan><tspan dy="-1.1">2.0</tspan></text>
<text transform="translate(0 147.77) scale(1.09 1)" x="605.90 617.06 625.98 630.44" font-size="16.04"><tspan font-size="18.13" dy="1.1">−</tspan><tspan dy="-1.1">1.8</tspan></text>
<text transform="translate(0 586.20) scale(1.09 1)" x="199.67 214.68 226.77 240.12 246.38 259.11 271.84 284.91 292.97 306.12 317.99 324.56 332.20 344.15 359.10 365.53 379.02 386.01 398.94 418.68" font-size="23.33">DFT energy (eV/atom)</text>
<g transform="translate(59.9,426.28) rotate(-90)">
<text transform="translate(0 0.00) scale(1.09 1)" x="-0.92 16.78 27.31 41.24 47.50 60.23 72.96 86.03 94.09 107.24 119.11 125.68 133.32 145.27 160.22 166.65 180.14 187.13 200.06 219.80" font-size="23.33">MLP energy (eV/atom)</text>
</g>
<text transform="translate(0 586.20) scale(1.09 1)" x="746.46 761.47 773.56 786.91 793.17 805.90 818.63 831.70 839.76 852.91 864.78 871.35 878.99 890.94 905.89 912.32 925.81 932.80 945.73 965.47" font-size="23.33">DFT energy (eV/atom)</text>
<g transform="translate(639.6,426.28) rotate(-90)">
<text transform="translate(0 0.00) scale(1.09 1)" x="-0.92 16.78 27.31 41.24 47.50 60.23 72.96 86.03 94.09 107.24 119.11 125.68 133.32 145.27 160.22 166.65 180.14 187.13 200.06 219.80" font-size="23.33">MLP energy (eV/atom)</text>
</g>
</g>
</svg>
</body></html>
